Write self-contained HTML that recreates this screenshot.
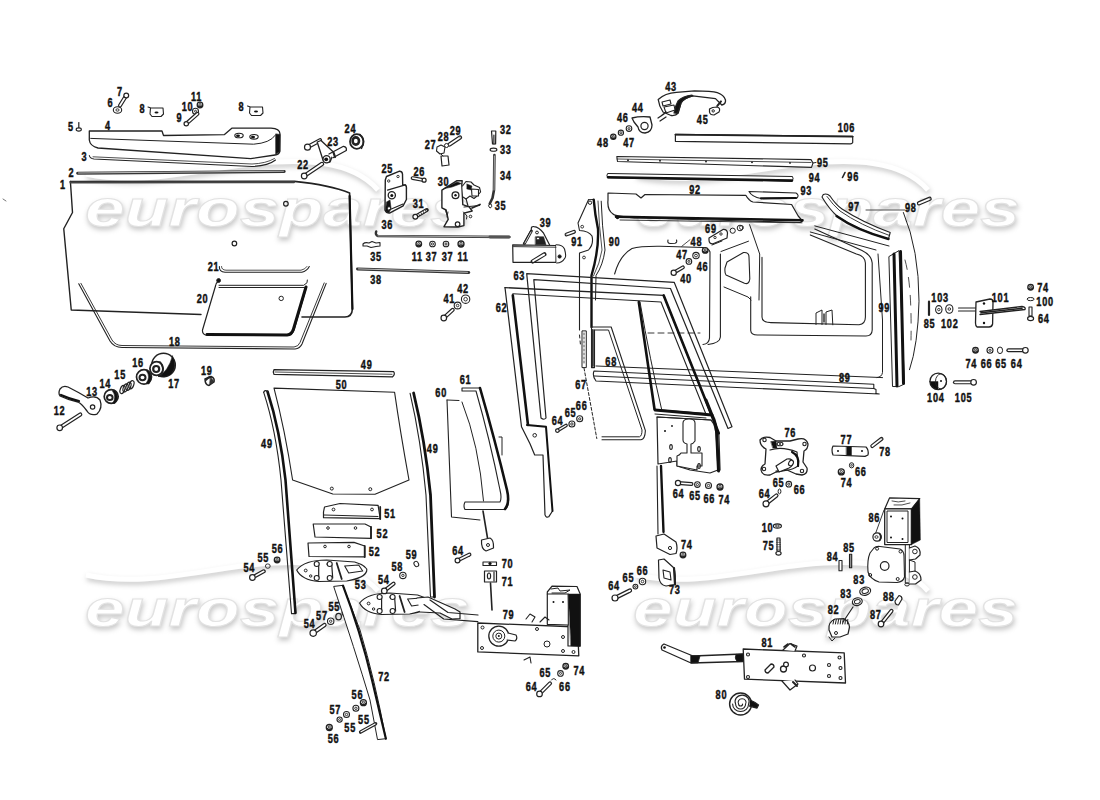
<!DOCTYPE html>
<html><head><meta charset="utf-8"><style>
html,body{margin:0;padding:0;background:#fff;width:1100px;height:800px;overflow:hidden}
svg{display:block}
</style></head><body>
<svg width="1100" height="800" viewBox="0 0 1100 800">
<defs><filter id="wm" x="-10%" y="-30%" width="120%" height="160%"><feGaussianBlur in="SourceAlpha" stdDeviation="2.5"/><feOffset dx="1" dy="3" result="b"/><feFlood flood-color="#c8c8c8"/><feComposite in2="b" operator="in"/><feMerge><feMergeNode/><feMergeNode in="SourceGraphic"/></feMerge></filter></defs>
<g id="wmk" font-family="Liberation Sans" font-weight="bold" font-style="italic" fill="#fff" stroke="#e2e2e2" stroke-width="1" filter="url(#wm)">
<text x="85" y="226" font-size="52" textLength="385" lengthAdjust="spacingAndGlyphs">eurospares</text><text x="635" y="226" font-size="52" textLength="385" lengthAdjust="spacingAndGlyphs">eurospares</text><text x="85" y="626" font-size="52" textLength="385" lengthAdjust="spacingAndGlyphs">eurospares</text><text x="633" y="626" font-size="52" textLength="385" lengthAdjust="spacingAndGlyphs">eurospares</text><path d="M86,174 C141,186 196,170 251,164 C301,159 351,159 378,190" stroke="#fff" stroke-width="5" fill="none"/><path d="M636,174 C691,186 746,170 801,164 C851,159 901,159 928,190" stroke="#fff" stroke-width="5" fill="none"/><path d="M86,575 C141,587 196,571 251,565 C301,560 351,560 378,591" stroke="#fff" stroke-width="5" fill="none"/><path d="M636,575 C691,587 746,571 801,565 C851,560 901,560 928,591" stroke="#fff" stroke-width="5" fill="none"/>
</g>
<g id="art">
<path d="M89.3,131 L162,131 L163.5,135.5 L224.5,134.6 L231.8,128.2 L271,128.2 Q279.8,128.5 280,134 L279.8,151.5 Q279,154.5 275,155 L250.7,158.7 L98,148 Q90,146 89.3,140 Z" stroke="#222" stroke-width="1.3" fill="#fff" stroke-linejoin="round" stroke-linecap="round" />
<path d="M90.7,138.4 L253.6,144.2 Q270,143 275,135.5" stroke="#222" stroke-width="1.0" fill="none" stroke-linejoin="round" stroke-linecap="round" />
<path d="M276,134 L280,134.5 L279.8,151.5 L276,154 Z" stroke="#222" stroke-width="0.8" fill="#111" stroke-linejoin="round" stroke-linecap="round" />
<ellipse cx="239" cy="135.5" rx="4.2" ry="2.3" transform="rotate(0 239 135.5)" stroke="#222" stroke-width="1.1" fill="#fff"/>
<ellipse cx="238" cy="135.8" rx="2" ry="1.3" transform="rotate(0 238 135.8)" stroke="#222" stroke-width="0" fill="#111"/>
<ellipse cx="254" cy="136.8" rx="4.2" ry="2.3" transform="rotate(0 254 136.8)" stroke="#222" stroke-width="1.1" fill="#fff"/>
<ellipse cx="253" cy="137.1" rx="2" ry="1.3" transform="rotate(0 253 137.1)" stroke="#222" stroke-width="0" fill="#111"/>
<path d="M89.3,155.5 Q90,158.5 94,159 L252,166.5 Q268,166 275.5,160" stroke="#222" stroke-width="1.1" fill="none" stroke-linejoin="round" stroke-linecap="round" />
<path d="M93,156.8 L252,164 Q266,163.5 274.5,158.5" stroke="#222" stroke-width="0.8" fill="none" stroke-linejoin="round" stroke-linecap="round" />
<path d="M77.6,173.3 L284.2,171.4" stroke="#333" stroke-width="3.0" fill="none" stroke-linejoin="round" stroke-linecap="round" />
<path d="M78.5,173.0 L283.5,171.2" stroke="#bbb" stroke-width="1.0" fill="none" stroke-linejoin="round" stroke-linecap="round" />
<path d="M70.4,181.5 L294.4,181.4 Q330,185 349.6,193 L352.4,309 Q352,317 345,317 L302,317" stroke="#222" stroke-width="1.6" fill="none" stroke-linejoin="round" stroke-linecap="round" />
<path d="M349.6,196 L352.4,309" stroke="#111" stroke-width="2.2" fill="none" stroke-linejoin="round" stroke-linecap="round" />
<path d="M70.4,181.5 L72.5,212.5 L63.75,228.75 L71.25,310 L201,314.5" stroke="#222" stroke-width="1.4" fill="none" stroke-linejoin="round" stroke-linecap="round" />
<path d="M70.4,182.5 L294.0,182.3" stroke="#444" stroke-width="2.0" fill="none" stroke-linejoin="round" stroke-linecap="round" />
<circle cx="285.9" cy="203.75" r="2.3" stroke="#222" stroke-width="1.2" fill="none"/>
<circle cx="234.4" cy="243.5" r="2.3" stroke="#222" stroke-width="1.2" fill="none"/>
<path d="M218.3,281 Q216,283 215.5,286 L202.5,330 Q202,335 208,335.5 L287,335.5 Q292,335 294,330 L306.5,287" stroke="#222" stroke-width="1.2" fill="#fff" stroke-linejoin="round" stroke-linecap="round" />
<path d="M207,334.5 L287,335 Q292,334.5 293.5,329 L306,287" stroke="#111" stroke-width="3.0" fill="none" stroke-linejoin="round" stroke-linecap="round" />
<path d="M219,285.3 L303.7,285.3 Q308.5,283 307.5,280" stroke="#222" stroke-width="1.0" fill="none" stroke-linejoin="round" stroke-linecap="round" />
<path d="M219,287.5 L304.7,287.5" stroke="#222" stroke-width="1.0" fill="none" stroke-linejoin="round" stroke-linecap="round" />
<circle cx="218.6" cy="280.5" r="1.9" stroke="#222" stroke-width="1.0" fill="#111"/>
<circle cx="281.2" cy="298.4" r="2.2" stroke="#222" stroke-width="1.0" fill="none"/>
<path d="M219.4,266.5 Q219,272 225,272.2 L301.8,272.2 Q307,271 309.3,266.5" stroke="#222" stroke-width="1.1" fill="none" stroke-linejoin="round" stroke-linecap="round" />
<path d="M221.5,266.5 Q221.5,270 226,270.2 L301,270.2 Q305,269.5 307,266.5" stroke="#222" stroke-width="0.8" fill="none" stroke-linejoin="round" stroke-linecap="round" />
<path d="M78.75,283.75 L110,341 Q114,347.5 122,347.5 L295,349 Q300,348.5 302,344 L326.2,283.4" stroke="#222" stroke-width="1.1" fill="none" stroke-linejoin="round" stroke-linecap="round" />
<path d="M80.9,283.3 L112,340 Q115.5,345.5 122,345.5 L294,347 Q298.5,346.5 300,342.5 L324.2,282.9" stroke="#222" stroke-width="0.9" fill="none" stroke-linejoin="round" stroke-linecap="round" />
<path d="M78.8,122.5 L78.8,129.0" stroke="#222" stroke-width="1.2" fill="none" stroke-linejoin="round" stroke-linecap="round" />
<ellipse cx="78.75" cy="129.5" rx="2.6" ry="1.6" transform="rotate(0 78.75 129.5)" stroke="#222" stroke-width="1.1" fill="#fff"/>
<ellipse cx="117.5" cy="110" rx="4.2" ry="3.2" transform="rotate(0 117.5 110)" stroke="#222" stroke-width="1.1" fill="#fff"/>
<ellipse cx="117.5" cy="110" rx="1.6" ry="1.2" transform="rotate(0 117.5 110)" stroke="#222" stroke-width="0.9" fill="none"/>
<path d="M126.2,95.5 L120.0,105.5" stroke="#222" stroke-width="4.1" fill="none" stroke-linejoin="round" stroke-linecap="round" />
<path d="M126.2,95.5 L120.0,105.5" stroke="#fff" stroke-width="1.7" fill="none" stroke-linejoin="round" stroke-linecap="round" />
<circle cx="126.25" cy="95.5" r="2.4" stroke="#222" stroke-width="1.2" fill="#fff"/>
<path d="M148,107 L151,108 L163,108 L163.5,114 L161,116.5 L152,116.5 L150,114 L150.5,108" stroke="#222" stroke-width="1.1" fill="#fff" stroke-linejoin="round" stroke-linecap="round" />
<ellipse cx="156.5" cy="112.5" rx="2" ry="1" transform="rotate(0 156.5 112.5)" stroke="#222" stroke-width="0" fill="#111"/>
<path d="M247.5,106 L250.5,107 L262.5,107 L263.0,113 L260.5,115.5 L251.5,115.5 L249.5,113 L250.0,107" stroke="#222" stroke-width="1.1" fill="#fff" stroke-linejoin="round" stroke-linecap="round" />
<ellipse cx="256.0" cy="111.5" rx="2" ry="1" transform="rotate(0 256.0 111.5)" stroke="#222" stroke-width="0" fill="#111"/>
<circle cx="200" cy="105" r="2.8" stroke="#222" stroke-width="1.3" fill="#fff"/>
<path d="M198.32,106.12 A2.2399999999999998,2.2399999999999998 0 0 0 201.96,105.84" stroke="#222" stroke-width="1.6" fill="none" stroke-linejoin="round" stroke-linecap="round" />
<circle cx="200" cy="104.5" r="0.9799999999999999" stroke="#222" stroke-width="0.9" fill="none"/>
<circle cx="195.5" cy="111.25" r="3" stroke="#222" stroke-width="1.1" fill="#fff"/>
<circle cx="195.5" cy="111.25" r="1" stroke="#222" stroke-width="0.9" fill="none"/>
<path d="M186.2,123.8 L197.5,113.8" stroke="#222" stroke-width="4.0" fill="none" stroke-linejoin="round" stroke-linecap="round" />
<path d="M186.2,123.8 L197.5,113.8" stroke="#fff" stroke-width="1.5999999999999999" fill="none" stroke-linejoin="round" stroke-linecap="round" />
<circle cx="186.25" cy="123.75" r="2.2" stroke="#222" stroke-width="1.2" fill="#fff"/>
<ellipse cx="356.8" cy="141.5" rx="6.8" ry="7.3" transform="rotate(0 356.8 141.5)" stroke="#222" stroke-width="1.8" fill="#fff"/>
<ellipse cx="355.8" cy="141" rx="3.2" ry="3.6" transform="rotate(0 355.8 141)" stroke="#222" stroke-width="2.6" fill="none"/>
<path d="M360,134.5 Q366,141 361.5,148.5" stroke="#222" stroke-width="1.4" fill="none" stroke-linejoin="round" stroke-linecap="round" />
<path d="M304.2,176.0 L322.1,163.9" stroke="#222" stroke-width="4.3" fill="none" stroke-linejoin="round" stroke-linecap="round" />
<path d="M304.2,176.0 L322.1,163.9" stroke="#fff" stroke-width="1.9000000000000001" fill="none" stroke-linejoin="round" stroke-linecap="round" />
<circle cx="304.2" cy="176" r="2.8" stroke="#222" stroke-width="1.2" fill="#fff"/>
<path d="M307.5,147.2 L320.0,140.3" stroke="#222" stroke-width="4.3" fill="none" stroke-linejoin="round" stroke-linecap="round" />
<path d="M307.5,147.2 L320.0,140.3" stroke="#fff" stroke-width="1.9000000000000001" fill="none" stroke-linejoin="round" stroke-linecap="round" />
<circle cx="307.5" cy="147.2" r="3.0" stroke="#222" stroke-width="1.2" fill="#fff"/>
<path d="M317.2,142 L321,140.5 L333.9,152.5 L330,162 Q326,163.5 323,160 Z" stroke="#222" stroke-width="1.3" fill="#fff" stroke-linejoin="round" stroke-linecap="round" />
<circle cx="326.6" cy="159.3" r="3.6" stroke="#222" stroke-width="1.3" fill="#fff"/>
<circle cx="326.2" cy="159.3" r="1.9" stroke="#222" stroke-width="0" fill="#111"/>
<path d="M329,154 L343.5,146.3 Q347,147 346.3,150.5 L333,157.8" stroke="#222" stroke-width="1.3" fill="#fff" stroke-linejoin="round" stroke-linecap="round" />
<path d="M333.5,152.5 L335.0,157.0" stroke="#222" stroke-width="2.2" fill="none" stroke-linejoin="round" stroke-linecap="round" />
<path d="M386.5,176.5 L399,171.3 Q402,171 402.5,174 L402.7,184.9 L405.3,184.9 Q406.8,186 406.4,190 L406.4,199.5 L403.2,205.8 L389.5,213.1 Q386,213 385,210 L385.3,180 Z" stroke="#222" stroke-width="1.4" fill="#fff" stroke-linejoin="round" stroke-linecap="round" />
<path d="M387.5,190.1 L405.3,184.9" stroke="#222" stroke-width="1.2" fill="none" stroke-linejoin="round" stroke-linecap="round" />
<path d="M386.5,202 L390,200 L391,208 L389,213 L385.5,211 Z" stroke="#222" stroke-width="0.6" fill="#111" stroke-linejoin="round" stroke-linecap="round" />
<circle cx="391.8" cy="195.3" r="3.6" stroke="#222" stroke-width="1.3" fill="#fff"/>
<circle cx="391.8" cy="195.5" r="1.5" stroke="#222" stroke-width="0" fill="#111"/>
<circle cx="389" cy="208.5" r="1.8" stroke="#222" stroke-width="1.1" fill="#fff"/>
<path d="M389,210 L403,204" stroke="#222" stroke-width="1.2" fill="none" stroke-linejoin="round" stroke-linecap="round" />
<circle cx="388.7" cy="181" r="1.2" stroke="#222" stroke-width="0.9" fill="none"/>
<circle cx="398" cy="176.5" r="1.2" stroke="#222" stroke-width="0.9" fill="none"/>
<path d="M424.1,180.2 L412.6,178.1" stroke="#222" stroke-width="3.9000000000000004" fill="none" stroke-linejoin="round" stroke-linecap="round" />
<path d="M424.1,180.2 L412.6,178.1" stroke="#fff" stroke-width="1.5000000000000002" fill="none" stroke-linejoin="round" stroke-linecap="round" />
<circle cx="424.1" cy="180.2" r="2.0" stroke="#222" stroke-width="1.2" fill="#fff"/>
<path d="M436.5,151 L437,147 L441,145 L445,147 L444,153 L440,154 Z" stroke="#222" stroke-width="1.1" fill="#fff" stroke-linejoin="round" stroke-linecap="round" />
<path d="M441,156 L448,156 L449,165 L442,166 Z" stroke="#222" stroke-width="1.2" fill="#fff" stroke-linejoin="round" stroke-linecap="round" />
<path d="M441.0,154.0 L443.0,156.0" stroke="#222" stroke-width="1.0" fill="none" stroke-linejoin="round" stroke-linecap="round" />
<path d="M460.0,137.5 L449.5,144.5" stroke="#222" stroke-width="4.3" fill="none" stroke-linejoin="round" stroke-linecap="round" />
<path d="M460.0,137.5 L449.5,144.5" stroke="#fff" stroke-width="1.9000000000000001" fill="none" stroke-linejoin="round" stroke-linecap="round" />
<circle cx="460" cy="137.5" r="0.1" stroke="#222" stroke-width="1.2" fill="#fff"/>
<circle cx="446.5" cy="145.5" r="2" stroke="#222" stroke-width="1.0" fill="#fff"/>
<path d="M441.9,190.1 L457,180.7 L462.2,180.7 L461.8,184.6 L462.8,204.7 L469.1,206.8 L472.2,211 L463.9,213.1 L463.9,225.6 L458,227 L444,226.7 L448.2,219.4 L446.1,210 L441.9,207.9 Z" stroke="#222" stroke-width="1.4" fill="#fff" stroke-linejoin="round" stroke-linecap="round" />
<path d="M444,188.5 L457,182 L461.5,183.5 L452,187 Z" stroke="#222" stroke-width="0.6" fill="#111" stroke-linejoin="round" stroke-linecap="round" />
<circle cx="455.5" cy="195.3" r="3.4" stroke="#222" stroke-width="1.3" fill="#fff"/>
<circle cx="455.5" cy="195.3" r="1.2" stroke="#222" stroke-width="0" fill="#111"/>
<circle cx="457.6" cy="224.2" r="2.3" stroke="#222" stroke-width="1.2" fill="#fff"/>
<path d="M462.5,186 L466,181.5 L471,182 L474,185 L479.5,187.5 L480.6,192 L477,196 L474,198.5 L470,196 L466,199 L463,197" stroke="#222" stroke-width="1.1" fill="#fff" stroke-linejoin="round" stroke-linecap="round" />
<path d="M467,184 L472,186 L471,190 L467,189 Z" stroke="#222" stroke-width="0.5" fill="#111" stroke-linejoin="round" stroke-linecap="round" />
<path d="M471.5,189 L478.5,189.5 L478.5,196 L472,196 Z" stroke="#222" stroke-width="1.1" fill="#fff" stroke-linejoin="round" stroke-linecap="round" />
<path d="M466,198.5 L468,206 M464,207 L479.5,205.5" stroke="#222" stroke-width="1.1" fill="none" stroke-linejoin="round" stroke-linecap="round" />
<path d="M463.5,212 L467,216 L466.5,219" stroke="#222" stroke-width="1.0" fill="none" stroke-linejoin="round" stroke-linecap="round" />
<circle cx="470.5" cy="216.5" r="1.3" stroke="#222" stroke-width="1.0" fill="none"/>
<path d="M480.0,204.5 L472.0,208.0" stroke="#222" stroke-width="1.8" fill="none" stroke-linejoin="round" stroke-linecap="round" />
<path d="M445.5,210.5 L447,215 M448,212 L447,217" stroke="#222" stroke-width="0.9" fill="none" stroke-linejoin="round" stroke-linecap="round" />
<path d="M415.3,216.8 L426.8,210.0" stroke="#222" stroke-width="4.0" fill="none" stroke-linejoin="round" stroke-linecap="round" />
<path d="M416.0,216.3 L426.0,210.5" stroke="#fff" stroke-width="1.6" fill="none" stroke-linejoin="round" stroke-linecap="round" />
<path d="M418.5,213.5 L419.5,215.5" stroke="#222" stroke-width="0.8" fill="none" stroke-linejoin="round" stroke-linecap="round" />
<path d="M420.7,212.2 L421.7,214.2" stroke="#222" stroke-width="0.8" fill="none" stroke-linejoin="round" stroke-linecap="round" />
<path d="M422.9,210.9 L423.9,212.9" stroke="#222" stroke-width="0.8" fill="none" stroke-linejoin="round" stroke-linecap="round" />
<path d="M425.1,209.6 L426.1,211.6" stroke="#222" stroke-width="0.8" fill="none" stroke-linejoin="round" stroke-linecap="round" />
<circle cx="415.3" cy="216.8" r="2.4" stroke="#222" stroke-width="1.2" fill="#fff"/>
<path d="M376.2,231.5 Q375,235 378,236 L509.4,237" stroke="#333" stroke-width="2.4" fill="none" stroke-linejoin="round" stroke-linecap="round" />
<path d="M378.0,235.9 L508.0,236.9" stroke="#ccc" stroke-width="0.8" fill="none" stroke-linejoin="round" stroke-linecap="round" />
<path d="M490.0,236.9 L509.0,237.0" stroke="#555" stroke-width="3.0" fill="none" stroke-linejoin="round" stroke-linecap="round" />
<path d="M363,244 Q365,242 369,243 L372,241.5 L376,243 L380,242.5 L380,246 L376,246.5 L371,247.5 L367,246 L363,246 Z" stroke="#222" stroke-width="1.1" fill="#fff" stroke-linejoin="round" stroke-linecap="round" />
<circle cx="418.75" cy="244" r="2.8" stroke="#222" stroke-width="1.3" fill="#fff"/>
<path d="M417.07,245.12 A2.2399999999999998,2.2399999999999998 0 0 0 420.71,244.84" stroke="#222" stroke-width="1.6" fill="none" stroke-linejoin="round" stroke-linecap="round" />
<circle cx="418.75" cy="243.5" r="0.9799999999999999" stroke="#222" stroke-width="0.9" fill="none"/>
<circle cx="432.5" cy="244" r="2.8" stroke="#222" stroke-width="1.1" fill="#fff"/>
<circle cx="432.5" cy="244" r="1.1" stroke="#222" stroke-width="0.9" fill="none"/>
<circle cx="446" cy="244" r="2.8" stroke="#222" stroke-width="1.1" fill="#fff"/>
<circle cx="446" cy="244" r="1.1" stroke="#222" stroke-width="0.9" fill="none"/>
<circle cx="461" cy="244" r="3" stroke="#222" stroke-width="1.3" fill="#fff"/>
<path d="M459.2,245.2 A2.4000000000000004,2.4000000000000004 0 0 0 463.1,244.9" stroke="#222" stroke-width="1.6" fill="none" stroke-linejoin="round" stroke-linecap="round" />
<circle cx="461" cy="243.5" r="1.0499999999999998" stroke="#222" stroke-width="0.9" fill="none"/>
<path d="M357.5,268.9 L468.8,272.5" stroke="#333" stroke-width="3.0" fill="none" stroke-linejoin="round" stroke-linecap="round" />
<path d="M358.5,268.9 L467.5,272.3" stroke="#bbb" stroke-width="1.0" fill="none" stroke-linejoin="round" stroke-linecap="round" />
<path d="M491.5,131 L495.8,131 L495.6,144 L492.5,144 Z" stroke="#222" stroke-width="1.2" fill="#fff" stroke-linejoin="round" stroke-linecap="round" />
<path d="M493.9,135.0 L493.9,144.0" stroke="#222" stroke-width="1.2" fill="none" stroke-linejoin="round" stroke-linecap="round" />
<ellipse cx="493.5" cy="149.7" rx="3.4" ry="1.6" transform="rotate(0 493.5 149.7)" stroke="#222" stroke-width="1.1" fill="#fff"/>
<path d="M494.4,155 L494,190 L492.5,198 L489.7,203.7" stroke="#333" stroke-width="2.6" fill="none" stroke-linejoin="round" stroke-linecap="round" />
<path d="M494.4,156.0 L494.0,190.0" stroke="#ccc" stroke-width="0.8" fill="none" stroke-linejoin="round" stroke-linecap="round" />
<path d="M489.7,203.7 Q487,206 490,208 Q493,207 491,204" stroke="#222" stroke-width="1.0" fill="none" stroke-linejoin="round" stroke-linecap="round" />
<circle cx="163.5" cy="365" r="11.8" stroke="#222" stroke-width="1.5" fill="#fff"/>
<path d="M172.5,356 Q178,366 171,374.5 Q165,378 158,376.5 Q168,372 172.5,356 Z" stroke="#222" stroke-width="0.6" fill="#111" stroke-linejoin="round" stroke-linecap="round" />
<ellipse cx="156.5" cy="368.5" rx="6.6" ry="6.8" transform="rotate(0 156.5 368.5)" stroke="#222" stroke-width="1.8" fill="#fff"/>
<ellipse cx="156.2" cy="369" rx="3" ry="3" transform="rotate(0 156.2 369)" stroke="#222" stroke-width="2.2" fill="none"/>
<circle cx="156.2" cy="369" r="0.8" stroke="#222" stroke-width="0" fill="#fff"/>
<path d="M160,362 Q165,368 161.5,375" stroke="#222" stroke-width="1.6" fill="none" stroke-linejoin="round" stroke-linecap="round" />
<ellipse cx="144" cy="376.9" rx="7.5" ry="7.2" transform="rotate(0 144 376.9)" stroke="#222" stroke-width="1.7" fill="#fff"/>
<ellipse cx="142.5" cy="377.5" rx="3" ry="2.8" transform="rotate(0 142.5 377.5)" stroke="#222" stroke-width="2.0" fill="none"/>
<path d="M148,370.5 Q154,377 149,384 L146,383.5 Q151,377 146.5,371 Z" stroke="#222" stroke-width="0.6" fill="#111" stroke-linejoin="round" stroke-linecap="round" />
<ellipse cx="122.5" cy="389.5" rx="2.2" ry="4.2" transform="rotate(20 122.5 389.5)" stroke="#222" stroke-width="1.2" fill="none"/>
<ellipse cx="125.5" cy="387.9" rx="2.2" ry="4.2" transform="rotate(20 125.5 387.9)" stroke="#222" stroke-width="1.2" fill="none"/>
<ellipse cx="128.5" cy="386.3" rx="2.2" ry="4.2" transform="rotate(20 128.5 386.3)" stroke="#222" stroke-width="1.2" fill="none"/>
<ellipse cx="131.5" cy="384.7" rx="2.2" ry="4.2" transform="rotate(20 131.5 384.7)" stroke="#222" stroke-width="1.2" fill="none"/>
<ellipse cx="111.2" cy="396.5" rx="7" ry="6.8" transform="rotate(0 111.2 396.5)" stroke="#222" stroke-width="1.7" fill="#fff"/>
<ellipse cx="109.8" cy="397.5" rx="2.8" ry="2.6" transform="rotate(0 109.8 397.5)" stroke="#222" stroke-width="2.0" fill="none"/>
<path d="M115,390.5 Q120,397 115,403.5 L112.5,403.5 Q117,397 112.5,391 Z" stroke="#222" stroke-width="0.6" fill="#111" stroke-linejoin="round" stroke-linecap="round" />
<path d="M60,389 Q63,385 68,387 Q78,392 88,398 Q96,395 100,400 Q103,408 97,414 Q90,416 87,411 Q82,404 78,402 Q68,400 60,396 Q58,393 60,389 Z" stroke="#222" stroke-width="1.3" fill="#fff" stroke-linejoin="round" stroke-linecap="round" />
<path d="M61,395 Q70,399 79,401" stroke="#111" stroke-width="2.2" fill="none" stroke-linejoin="round" stroke-linecap="round" />
<circle cx="92.6" cy="407" r="2.2" stroke="#222" stroke-width="1.2" fill="none"/>
<path d="M59.7,427.8 L80.3,414.5" stroke="#222" stroke-width="4.1" fill="none" stroke-linejoin="round" stroke-linecap="round" />
<path d="M59.7,427.8 L80.3,414.5" stroke="#fff" stroke-width="1.7" fill="none" stroke-linejoin="round" stroke-linecap="round" />
<circle cx="59.7" cy="427.8" r="2.8" stroke="#222" stroke-width="1.2" fill="#fff"/>
<path d="M205,379 L211,376.5 Q215,378 214,382 L209,385.5 Q205,385 205,379 Z" stroke="#222" stroke-width="1.5" fill="#fff" stroke-linejoin="round" stroke-linecap="round" />
<path d="M206,380 Q208,377 211,377" stroke="#222" stroke-width="1.8" fill="none" stroke-linejoin="round" stroke-linecap="round" />
<path d="M210.5,377 L214,381.5 L209.5,385 Z" stroke="#222" stroke-width="0.5" fill="#333" stroke-linejoin="round" stroke-linecap="round" />
<path d="M658.2,99.5 Q665,93 676.4,92.3 L694.5,90.9 Q712,91 717.3,92.7 Q724,95 725.5,100 Q726,104 721.8,105 L715.5,98.6 L692.7,95.9 Q684,98 681,103 Q679,110 678.2,113.2 Q676,116 671,115.5 L663,112 Q659,106 658.2,99.5 Z" stroke="#222" stroke-width="1.3" fill="#fff" stroke-linejoin="round" stroke-linecap="round" />
<path d="M692.7,95.9 Q684,98 681,103 Q679,110 677.5,113.5 L674,113 Q675,106 678,101 Q683,96 692,95 Z" stroke="#222" stroke-width="1.2" fill="#111" stroke-linejoin="round" stroke-linecap="round" />
<path d="M662,102 L670,100 L671,104 L663,106 Z" stroke="#222" stroke-width="1.1" fill="#fff" stroke-linejoin="round" stroke-linecap="round" />
<path d="M664,107 L674,105 L675,110 L666,113 Z" stroke="#222" stroke-width="1.1" fill="#fff" stroke-linejoin="round" stroke-linecap="round" />
<path d="M661,116 L666,112 M658,118 L664,114 M660,121 L666,117" stroke="#222" stroke-width="1.3" fill="none" stroke-linejoin="round" stroke-linecap="round" />
<path d="M709.5,109 Q712,107 717,107 Q721,108 719,112 L714,115 Q710,115 709.5,112 Z" stroke="#222" stroke-width="1.2" fill="#fff" stroke-linejoin="round" stroke-linecap="round" />
<circle cx="713.2" cy="110.9" r="1.2" stroke="#222" stroke-width="1.0" fill="none"/>
<path d="M717.3,105.9 L721.0,101.4" stroke="#222" stroke-width="2.0" fill="none" stroke-linejoin="round" stroke-linecap="round" />
<path d="M632,118 Q640,116 650,117 L652,125 Q652,132 645,133 Q639,133 638,127 L634,122 Z" stroke="#222" stroke-width="1.3" fill="#fff" stroke-linejoin="round" stroke-linecap="round" />
<circle cx="644.5" cy="126" r="3.6" stroke="#222" stroke-width="1.2" fill="none"/>
<circle cx="613.3" cy="136.8" r="2.6" stroke="#222" stroke-width="1.3" fill="#fff"/>
<path d="M611.74,137.84 A2.08,2.08 0 0 0 615.12,137.58" stroke="#222" stroke-width="1.6" fill="none" stroke-linejoin="round" stroke-linecap="round" />
<circle cx="613.3" cy="136.3" r="0.9099999999999999" stroke="#222" stroke-width="0.9" fill="none"/>
<circle cx="620.9" cy="132.7" r="2.6" stroke="#222" stroke-width="1.1" fill="#fff"/>
<circle cx="620.9" cy="132.7" r="1" stroke="#222" stroke-width="0.9" fill="none"/>
<circle cx="629" cy="128.6" r="2.8" stroke="#222" stroke-width="1.1" fill="#fff"/>
<circle cx="629" cy="128.6" r="1" stroke="#222" stroke-width="0.9" fill="none"/>
<path d="M675.4,134.3 L852.7,136.3 L852.7,142.5 Q852,144 850,143.8 L675.4,141.3 Z" stroke="#222" stroke-width="1.2" fill="#fff" stroke-linejoin="round" stroke-linecap="round" />
<path d="M675.4,134.6 L852.7,136.6" stroke="#222" stroke-width="1.8" fill="none" stroke-linejoin="round" stroke-linecap="round" />
<path d="M616.8,156.5 L811,159.6 L813,163 L811.5,167.4 L617.5,161.5 Z" stroke="#222" stroke-width="1.1" fill="#fff" stroke-linejoin="round" stroke-linecap="round" />
<path d="M617.0,159.0 L811.0,162.5" stroke="#222" stroke-width="0.8" fill="none" stroke-linejoin="round" stroke-linecap="round" />
<circle cx="628" cy="160.187" r="0.9" stroke="#222" stroke-width="0" fill="#111"/>
<circle cx="660" cy="160.731" r="0.9" stroke="#222" stroke-width="0" fill="#111"/>
<circle cx="706" cy="161.513" r="0.9" stroke="#222" stroke-width="0" fill="#111"/>
<circle cx="752" cy="162.295" r="0.9" stroke="#222" stroke-width="0" fill="#111"/>
<circle cx="790" cy="162.941" r="0.9" stroke="#222" stroke-width="0" fill="#111"/>
<path d="M813,163 L816,162.5" stroke="#222" stroke-width="1.0" fill="none" stroke-linejoin="round" stroke-linecap="round" />
<path d="M607.3,174 Q606,176 608,177.8 L792,181 Q794,179 792.5,176.5 L608,173.5 Z" stroke="#222" stroke-width="1.0" fill="#fff" stroke-linejoin="round" stroke-linecap="round" />
<path d="M608.0,177.3 L792.0,180.6" stroke="#111" stroke-width="2.6" fill="none" stroke-linejoin="round" stroke-linecap="round" />
<path d="M842.5,177.5 L845.0,172.5" stroke="#222" stroke-width="1.6" fill="none" stroke-linejoin="round" stroke-linecap="round" />
<path d="M608,193 L636,194 L641,198 L645,194.5 L745.8,195.3 Q749,201 753,202 L791.6,204.5 L798.2,216 L802.5,221 L800,222.5 L640,218 Q616,217 613,214 Q607,210 608,200 Z" stroke="#222" stroke-width="1.2" fill="#fff" stroke-linejoin="round" stroke-linecap="round" />
<path d="M616.0,216.8 L802.5,220.2" stroke="#111" stroke-width="2.6" fill="none" stroke-linejoin="round" stroke-linecap="round" />
<path d="M620.0,220.0 L802.0,222.8" stroke="#222" stroke-width="0.9" fill="none" stroke-linejoin="round" stroke-linecap="round" />
<circle cx="617.5" cy="217.5" r="1.7" stroke="#222" stroke-width="0" fill="#111"/>
<path d="M749,191.5 L796,193 Q799.5,195 797,198 L761,198.5 Q752,197 749,191.5 Z" stroke="#222" stroke-width="1.1" fill="#fff" stroke-linejoin="round" stroke-linecap="round" />
<path d="M761.0,198.3 L796.0,198.0" stroke="#111" stroke-width="2.2" fill="none" stroke-linejoin="round" stroke-linecap="round" />
<path d="M588.5,199.7 L578,223 L579.5,230.5 Q589,231 592,236 Q594,244 588.5,250 L579.5,253 L579.5,330" stroke="#222" stroke-width="1.1" fill="none" stroke-linejoin="round" stroke-linecap="round" />
<path d="M579.5,335 L580.5,345" stroke="#222" stroke-width="1.0" fill="none" stroke-linejoin="round" stroke-linecap="round" stroke-dasharray="3,3"/>
<circle cx="590" cy="202.7" r="1.7" stroke="#222" stroke-width="1.0" fill="none"/>
<circle cx="582.2" cy="226.7" r="1.4" stroke="#222" stroke-width="0.9" fill="none"/>
<circle cx="584" cy="257.5" r="1.4" stroke="#222" stroke-width="0.9" fill="none"/>
<path d="M588.5,199.7 L593.7,199.5" stroke="#222" stroke-width="1.0" fill="none" stroke-linejoin="round" stroke-linecap="round" />
<path d="M593.7,199.7 Q595,215 598,229 Q599,250 591.5,275.5 L591.5,327" stroke="#111" stroke-width="2.4" fill="none" stroke-linejoin="round" stroke-linecap="round" />
<path d="M601.2,201.2 Q602,225 605,250 Q603,265 596,275.5 L595.5,300" stroke="#222" stroke-width="1.0" fill="none" stroke-linejoin="round" stroke-linecap="round" />
<path d="M598,201 Q599,225 602,250 Q600,263 593.5,276" stroke="#222" stroke-width="0.8" fill="none" stroke-linejoin="round" stroke-linecap="round" />
<path d="M512.7,244.8 L556,245.5 L556,262.3 L513,262.3 Z" stroke="#222" stroke-width="1.2" fill="#fff" stroke-linejoin="round" stroke-linecap="round" />
<path d="M556,244.8 Q563,245 564.5,249 Q566.5,256 565,258 Q562,263 556.7,263" stroke="#222" stroke-width="1.1" fill="#fff" stroke-linejoin="round" stroke-linecap="round" />
<circle cx="559.6" cy="256.5" r="1.6" stroke="#222" stroke-width="1.0" fill="#111"/>
<path d="M523.3,244 L531.3,229.5 Q531,226 534,226.6 Q539,227 543.6,233.2 L549.5,244.8" stroke="#222" stroke-width="1.2" fill="none" stroke-linejoin="round" stroke-linecap="round" />
<path d="M524.5,243.5 L531.5,231.0" stroke="#222" stroke-width="2.6" fill="none" stroke-linejoin="round" stroke-linecap="round" />
<path d="M525.0,243.0 L531.0,232.0" stroke="#fff" stroke-width="0.8" fill="none" stroke-linejoin="round" stroke-linecap="round" />
<path d="M535.6,236.8 L543.6,236.8 L546,244.8 L535.6,244.8 Z" stroke="#222" stroke-width="0.6" fill="#222" stroke-linejoin="round" stroke-linecap="round" />
<circle cx="538" cy="238.5" r="1.5" stroke="#222" stroke-width="1.0" fill="#fff"/>
<circle cx="537" cy="232.5" r="1.4" stroke="#222" stroke-width="1.0" fill="none"/>
<path d="M532.7,261.5 L544.4,254.3" stroke="#222" stroke-width="4.2" fill="none" stroke-linejoin="round" stroke-linecap="round" />
<path d="M533.2,261.0 L544.0,254.6" stroke="#fff" stroke-width="2.0" fill="none" stroke-linejoin="round" stroke-linecap="round" />
<path d="M513.5,246.6 L556.0,247.2" stroke="#222" stroke-width="0.9" fill="none" stroke-linejoin="round" stroke-linecap="round" />
<path d="M566.5,234.5 L574.0,231.8" stroke="#222" stroke-width="3.9000000000000004" fill="none" stroke-linejoin="round" stroke-linecap="round" />
<path d="M566.5,234.5 L574.0,231.8" stroke="#fff" stroke-width="1.5000000000000002" fill="none" stroke-linejoin="round" stroke-linecap="round" />
<circle cx="566.5" cy="234.5" r="0.1" stroke="#222" stroke-width="1.2" fill="#fff"/>
<path d="M443.8,318.0 L452.7,309.8" stroke="#222" stroke-width="4.1" fill="none" stroke-linejoin="round" stroke-linecap="round" />
<path d="M443.8,318.0 L452.7,309.8" stroke="#fff" stroke-width="1.7" fill="none" stroke-linejoin="round" stroke-linecap="round" />
<circle cx="443.8" cy="318" r="2.8" stroke="#222" stroke-width="1.2" fill="#fff"/>
<circle cx="457.6" cy="305.5" r="3.4" stroke="#222" stroke-width="1.1" fill="#fff"/>
<circle cx="457.6" cy="305.5" r="1.3" stroke="#222" stroke-width="0.9" fill="none"/>
<circle cx="465.6" cy="299.2" r="4.2" stroke="#222" stroke-width="1.1" fill="#fff"/>
<circle cx="465.6" cy="299.2" r="1.8" stroke="#222" stroke-width="0.9" fill="none"/>
<path d="M614.6,274 Q620,255 632,248.5 Q640,246 660,246.2 L703,247.5 Q709,248 710,252 L709.5,338 Q709,344 703,344.5" stroke="#222" stroke-width="1.1" fill="none" stroke-linejoin="round" stroke-linecap="round" />
<path d="M648,333 L700,333" stroke="#222" stroke-width="0.9" fill="none" stroke-linejoin="round" stroke-linecap="round" stroke-dasharray="6,4"/>
<circle cx="675" cy="246.8" r="0" stroke="#222" stroke-width="0" fill="none"/>
<path d="M668,240 Q667,243.5 670.5,243.5 L675,243.2 Q677.5,242.5 676.5,240" stroke="#222" stroke-width="1.1" fill="none" stroke-linejoin="round" stroke-linecap="round" />
<path d="M720.4,254 L720.4,337 Q720,343 708,344.5" stroke="#222" stroke-width="1.1" fill="none" stroke-linejoin="round" stroke-linecap="round" />
<path d="M721,251.5 L748.5,241.2" stroke="#222" stroke-width="1.0" fill="none" stroke-linejoin="round" stroke-linecap="round" />
<path d="M749.6,224.7 L759.7,254 L759,300" stroke="#222" stroke-width="1.0" fill="none" stroke-linejoin="round" stroke-linecap="round" />
<path d="M727,262 L743.5,252.5 Q749,252 749,257 L749.8,279 Q749,285 744.5,283.2 L726,275 Q724.5,273 725,268 Z" stroke="#222" stroke-width="1.1" fill="none" stroke-linejoin="round" stroke-linecap="round" />
<path d="M724,287 L748,297 L751,300" stroke="#222" stroke-width="1.0" fill="none" stroke-linejoin="round" stroke-linecap="round" />
<path d="M762,257.4 L762,317 Q762,322.6 771,322.6 L859,324.8 Q865.4,324 865.4,317 L865.4,263 Q865,256 856.4,254 L810.3,234.9" stroke="#222" stroke-width="1.1" fill="none" stroke-linejoin="round" stroke-linecap="round" />
<path d="M750.7,296.7 L750.7,330.5 Q751,335 757.5,335 L866,336 Q872,336 872.2,330 L872.2,263 Q871.5,255 862,250.5 L814.8,229" stroke="#222" stroke-width="1.1" fill="none" stroke-linejoin="round" stroke-linecap="round" />
<path d="M814.8,225.9 L889,246 M810.3,232 L876,250" stroke="#222" stroke-width="1.0" fill="none" stroke-linejoin="round" stroke-linecap="round" />
<path d="M816,324.5 L816,313 L822,310 L822,324.5 M826,324.5 L826,312 L832,310 L832.8,324.8" stroke="#222" stroke-width="1.0" fill="none" stroke-linejoin="round" stroke-linecap="round" />
<path d="M824.0,314.0 L824.0,322.0" stroke="#222" stroke-width="1.4" fill="none" stroke-linejoin="round" stroke-linecap="round" />
<path d="M878,254 L882.5,320 L882.5,372.4 Q882,377 877,377.6" stroke="#222" stroke-width="1.0" fill="none" stroke-linejoin="round" stroke-linecap="round" />
<path d="M888.9,257 L892.5,386.5 Q899,388 904.5,384 L899,251 Z" stroke="#222" stroke-width="1.0" fill="#fff" stroke-linejoin="round" stroke-linecap="round" />
<path d="M894,254 L897,386" stroke="#111" stroke-width="3.0" fill="none" stroke-linejoin="round" stroke-linecap="round" />
<path d="M900.5,251.5 L903.5,383.5" stroke="#111" stroke-width="3.0" fill="none" stroke-linejoin="round" stroke-linecap="round" />
<path d="M903.4,212.5 Q919,250 919,301.2 Q918,345 909.5,369.7" stroke="#222" stroke-width="1.0" fill="none" stroke-linejoin="round" stroke-linecap="round" />
<path d="M905,260 Q912,285 911,340" stroke="#222" stroke-width="0.8" fill="none" stroke-linejoin="round" stroke-linecap="round" stroke-dasharray="10,8"/>
<path d="M823.3,194.5 Q827,193 830,196 Q836,205 842,209 Q862,222 890.2,232.5 L888.5,239 Q860,231 838,217 Q829,209 822,197 Z" stroke="#222" stroke-width="1.1" fill="#fff" stroke-linejoin="round" stroke-linecap="round" />
<path d="M836.5,216 Q856,230 888.5,239" stroke="#111" stroke-width="2.4" fill="none" stroke-linejoin="round" stroke-linecap="round" />
<path d="M827,196.5 Q833,205 840,211 Q860,225 889.5,235.5" stroke="#222" stroke-width="0.9" fill="none" stroke-linejoin="round" stroke-linecap="round" />
<path d="M866.0,210.0 L905.0,210.0" stroke="#222" stroke-width="0.8" fill="none" stroke-linejoin="round" stroke-linecap="round" />
<path d="M929.6,198.8 L919.0,203.3" stroke="#222" stroke-width="4.3" fill="none" stroke-linejoin="round" stroke-linecap="round" />
<path d="M929.6,198.8 L919.0,203.3" stroke="#fff" stroke-width="1.9000000000000001" fill="none" stroke-linejoin="round" stroke-linecap="round" />
<circle cx="929.6" cy="198.8" r="0.1" stroke="#222" stroke-width="1.2" fill="#fff"/>
<path d="M596,366 L882.5,377.6" stroke="#222" stroke-width="1.0" fill="none" stroke-linejoin="round" stroke-linecap="round" />
<path d="M594,371 L873.8,384.2 L873.8,388.5 L876,389.6 L876,393.5 L879.3,394 L596,381 Q592,376 594,371 Z" stroke="#222" stroke-width="1.1" fill="#fff" stroke-linejoin="round" stroke-linecap="round" />
<path d="M594.0,376.0 L873.8,388.5" stroke="#222" stroke-width="1.0" fill="none" stroke-linejoin="round" stroke-linecap="round" />
<ellipse cx="938.8" cy="309.6" rx="3.2" ry="4" transform="rotate(0 938.8 309.6)" stroke="#222" stroke-width="1.1" fill="#fff"/>
<circle cx="938.8" cy="309.6" r="1.2" stroke="#222" stroke-width="0.9" fill="none"/>
<ellipse cx="949.3" cy="309" rx="3.6" ry="4.3" transform="rotate(0 949.3 309)" stroke="#222" stroke-width="1.1" fill="#fff"/>
<circle cx="949.3" cy="309" r="1.3" stroke="#222" stroke-width="0.9" fill="none"/>
<path d="M929.0,301.7 L929.0,314.9" stroke="#222" stroke-width="2.2" fill="none" stroke-linejoin="round" stroke-linecap="round" />
<path d="M958.5,308 L976,308 M958.5,311 L976,311" stroke="#222" stroke-width="1.1" fill="none" stroke-linejoin="round" stroke-linecap="round" />
<path d="M976,302 L990,299 Q993,299 993,302 L992.6,324 Q992,327 989,327 L977,327 Q975.5,326 975.5,323 Z" stroke="#222" stroke-width="1.3" fill="#fff" stroke-linejoin="round" stroke-linecap="round" />
<circle cx="984" cy="303.5" r="1.2" stroke="#222" stroke-width="0" fill="#111"/>
<circle cx="984" cy="323" r="1.2" stroke="#222" stroke-width="0" fill="#111"/>
<path d="M980,311.5 L1022,306.5 Q1026,307 1025,309.5 L980,314.5" stroke="#222" stroke-width="1.3" fill="#fff" stroke-linejoin="round" stroke-linecap="round" />
<path d="M981.0,312.8 L1022.0,308.3" stroke="#222" stroke-width="1.6" fill="none" stroke-linejoin="round" stroke-linecap="round" />
<circle cx="1030.6" cy="287.3" r="2.8" stroke="#222" stroke-width="1.3" fill="#fff"/>
<path d="M1028.9199999999998,288.42 A2.2399999999999998,2.2399999999999998 0 0 0 1032.56,288.14" stroke="#222" stroke-width="1.6" fill="none" stroke-linejoin="round" stroke-linecap="round" />
<circle cx="1030.6" cy="286.8" r="0.9799999999999999" stroke="#222" stroke-width="0.9" fill="none"/>
<ellipse cx="1030.6" cy="299.1" rx="3.5" ry="1.6" transform="rotate(0 1030.6 299.1)" stroke="#222" stroke-width="1.0" fill="none"/>
<path d="M1029,307 L1032,307 L1032,316 L1029,316 Z" stroke="#222" stroke-width="1.1" fill="#fff" stroke-linejoin="round" stroke-linecap="round" />
<ellipse cx="1030.6" cy="318.5" rx="3" ry="2.2" transform="rotate(0 1030.6 318.5)" stroke="#222" stroke-width="1.2" fill="#fff"/>
<circle cx="975.5" cy="350.3" r="2.8" stroke="#222" stroke-width="1.3" fill="#fff"/>
<path d="M973.82,351.42 A2.2399999999999998,2.2399999999999998 0 0 0 977.46,351.14" stroke="#222" stroke-width="1.6" fill="none" stroke-linejoin="round" stroke-linecap="round" />
<circle cx="975.5" cy="349.8" r="0.9799999999999999" stroke="#222" stroke-width="0.9" fill="none"/>
<circle cx="990" cy="350.3" r="3" stroke="#222" stroke-width="1.1" fill="#fff"/>
<circle cx="990" cy="350.3" r="1.1" stroke="#222" stroke-width="0.9" fill="none"/>
<ellipse cx="1000" cy="350.3" rx="2.6" ry="3.3" transform="rotate(0 1000 350.3)" stroke="#222" stroke-width="1.0" fill="#fff"/>
<path d="M1025.4,350.3 L1008.3,350.3" stroke="#222" stroke-width="3.9000000000000004" fill="none" stroke-linejoin="round" stroke-linecap="round" />
<path d="M1025.4,350.3 L1008.3,350.3" stroke="#fff" stroke-width="1.5000000000000002" fill="none" stroke-linejoin="round" stroke-linecap="round" />
<circle cx="1025.4" cy="350.3" r="2.8" stroke="#222" stroke-width="1.2" fill="#fff"/>
<circle cx="938.2" cy="381.4" r="8.3" stroke="#222" stroke-width="1.3" fill="#fff"/>
<path d="M930,381.5 L938,381.5 L938,389.6 Q931,389 930,381.5 Z" stroke="#222" stroke-width="0.5" fill="#111" stroke-linejoin="round" stroke-linecap="round" />
<ellipse cx="941" cy="381.4" rx="5.5" ry="7.5" transform="rotate(0 941 381.4)" stroke="#222" stroke-width="0.9" fill="none"/>
<circle cx="941" cy="381" r="1" stroke="#222" stroke-width="0" fill="#111"/>
<path d="M973.6,382.3 L955.0,382.3" stroke="#222" stroke-width="4.1" fill="none" stroke-linejoin="round" stroke-linecap="round" />
<path d="M973.6,382.3 L955.0,382.3" stroke="#fff" stroke-width="1.7" fill="none" stroke-linejoin="round" stroke-linecap="round" />
<circle cx="973.6" cy="382.3" r="2.8" stroke="#222" stroke-width="1.2" fill="#fff"/>
<path d="M709,238 L723,229.4 Q727,229 727.5,233 L727,238 L713,243.8 Q709,244 709,240 Z" stroke="#222" stroke-width="1.2" fill="#fff" stroke-linejoin="round" stroke-linecap="round" />
<circle cx="715" cy="237.5" r="1.2" stroke="#222" stroke-width="0.9" fill="none"/>
<circle cx="721" cy="234" r="1.2" stroke="#222" stroke-width="0.9" fill="none"/>
<path d="M712.0,245.0 L722.0,241.0" stroke="#222" stroke-width="1.0" fill="none" stroke-linejoin="round" stroke-linecap="round" />
<circle cx="732.7" cy="230.7" r="2.6" stroke="#222" stroke-width="1.0" fill="none"/>
<circle cx="740" cy="228" r="2.8" stroke="#222" stroke-width="1.0" fill="none"/>
<circle cx="741.5" cy="227.5" r="2" stroke="#222" stroke-width="0.8" fill="none"/>
<circle cx="705.2" cy="250.4" r="2.8" stroke="#222" stroke-width="1.3" fill="#fff"/>
<path d="M703.5200000000001,251.52 A2.2399999999999998,2.2399999999999998 0 0 0 707.1600000000001,251.24" stroke="#222" stroke-width="1.6" fill="none" stroke-linejoin="round" stroke-linecap="round" />
<circle cx="705.2" cy="249.9" r="0.9799999999999999" stroke="#222" stroke-width="0.9" fill="none"/>
<circle cx="696" cy="255.6" r="3.2" stroke="#222" stroke-width="1.1" fill="#fff"/>
<circle cx="696" cy="255.6" r="1.4" stroke="#222" stroke-width="0.9" fill="none"/>
<circle cx="688.9" cy="261.4" r="2.8" stroke="#222" stroke-width="1.1" fill="#fff"/>
<circle cx="688.9" cy="261.4" r="1" stroke="#222" stroke-width="0.9" fill="none"/>
<path d="M673.7,272.7 L682.9,267.4" stroke="#222" stroke-width="3.9000000000000004" fill="none" stroke-linejoin="round" stroke-linecap="round" />
<path d="M673.7,272.7 L682.9,267.4" stroke="#fff" stroke-width="1.5000000000000002" fill="none" stroke-linejoin="round" stroke-linecap="round" />
<circle cx="673.7" cy="272.7" r="2.6" stroke="#222" stroke-width="1.2" fill="#fff"/>
<path d="M681.8,246.3 L690.0,239.7" stroke="#222" stroke-width="0.8" fill="none" stroke-linejoin="round" stroke-linecap="round" />
<path d="M526.7,273.6 L674.2,282.3 L732,426.7 L728,428.5 L670.5,288.5 L533.8,279.7 L546,418 Q544,420.5 541,418 Z" stroke="#222" stroke-width="1.2" fill="none" stroke-linejoin="round" stroke-linecap="round" />
<path d="M505,287.6 L663.7,295.4 L718.8,433.2 L720,470" stroke="#222" stroke-width="1.3" fill="none" stroke-linejoin="round" stroke-linecap="round" />
<path d="M663.7,295.4 L718.8,433.2" stroke="#111" stroke-width="2.6" fill="none" stroke-linejoin="round" stroke-linecap="round" />
<path d="M505,287.6 L521.5,426.8 L530,443.7 L534.7,455 L543,455 L545,514.9 Q546,518 548.7,516.8 L552.5,511" stroke="#222" stroke-width="1.2" fill="none" stroke-linejoin="round" stroke-linecap="round" />
<path d="M512.8,293.8 L661,302 L705.7,413.5" stroke="#222" stroke-width="1.1" fill="none" stroke-linejoin="round" stroke-linecap="round" />
<path d="M512.8,295.4 L528,425" stroke="#111" stroke-width="2.6" fill="none" stroke-linejoin="round" stroke-linecap="round" />
<path d="M527,425 L546,426.8 L552.5,511" stroke="#111" stroke-width="2.0" fill="none" stroke-linejoin="round" stroke-linecap="round" />
<path d="M638.8,302 L654.5,409" stroke="#111" stroke-width="2.6" fill="none" stroke-linejoin="round" stroke-linecap="round" />
<path d="M654.5,409.6 L705.7,413.5" stroke="#222" stroke-width="1.2" fill="none" stroke-linejoin="round" stroke-linecap="round" />
<circle cx="534.7" cy="435.3" r="1.8" stroke="#222" stroke-width="1.0" fill="none"/>
<path d="M640,302 Q650,360 662,411 M655,414 L706,418" stroke="#222" stroke-width="1.0" fill="none" stroke-linejoin="round" stroke-linecap="round" />
<path d="M657,417 L711,420 Q716,425 716.5,440 L718,470 L710,473 L690,470 L677,466 L677,461 L658,464 Z" stroke="#222" stroke-width="1.2" fill="#fff" stroke-linejoin="round" stroke-linecap="round" />
<path d="M655,410 L712,415 Q717,424 717,440 L718.5,471" stroke="#111" stroke-width="3.0" fill="none" stroke-linejoin="round" stroke-linecap="round" />
<path d="M706,400 L712,415" stroke="#111" stroke-width="3.0" fill="none" stroke-linejoin="round" stroke-linecap="round" />
<path d="M657,417 L711,420" stroke="#222" stroke-width="1.1" fill="none" stroke-linejoin="round" stroke-linecap="round" />
<path d="M683,423 Q683,419 689,419 Q695,419 695,423 L695,441 Q693,444 691,444 L691,453 L702,453 L702,466 L697,466 L697,470 L677,466 L677,456 Q680,455 681,453 L687,453 L687,444 Q683,443 683,440 Z" stroke="#222" stroke-width="1.1" fill="#fff" stroke-linejoin="round" stroke-linecap="round" />
<ellipse cx="671" cy="447" rx="1.3" ry="2.4" transform="rotate(0 671 447)" stroke="#222" stroke-width="1.1" fill="none"/>
<ellipse cx="670" cy="460" rx="1.3" ry="2.4" transform="rotate(0 670 460)" stroke="#222" stroke-width="1.1" fill="none"/>
<ellipse cx="699" cy="449" rx="1.3" ry="2.4" transform="rotate(0 699 449)" stroke="#222" stroke-width="1.1" fill="none"/>
<ellipse cx="699" cy="466" rx="1.3" ry="2.4" transform="rotate(0 699 466)" stroke="#222" stroke-width="1.1" fill="none"/>
<circle cx="665" cy="431" r="1" stroke="#222" stroke-width="0" fill="#111"/>
<circle cx="672" cy="426" r="0.9" stroke="#222" stroke-width="0" fill="#111"/>
<path d="M657,466 L658,534" stroke="#222" stroke-width="1.1" fill="none" stroke-linejoin="round" stroke-linecap="round" />
<path d="M661,466 L663.5,532" stroke="#111" stroke-width="2.4" fill="none" stroke-linejoin="round" stroke-linecap="round" />
<path d="M656,536 L664,534 L676,542 Q678,548 676,553.5 L670,554.5 L657,548 Z" stroke="#222" stroke-width="1.2" fill="#fff" stroke-linejoin="round" stroke-linecap="round" />
<circle cx="670" cy="548" r="1.6" stroke="#222" stroke-width="1.0" fill="none"/>
<path d="M591.5,327 L611.2,327 L645.4,430.6 Q645,439 641,439.8 L602,439.8" stroke="#222" stroke-width="1.1" fill="none" stroke-linejoin="round" stroke-linecap="round" />
<path d="M594.5,330 L608.5,330 L642,430 Q642,436 639.5,436.8 L602,436.8" stroke="#222" stroke-width="1.0" fill="none" stroke-linejoin="round" stroke-linecap="round" />
<path d="M591.5,327 L591.5,367.6 L594.5,367.6 L594.5,330" stroke="#222" stroke-width="1.1" fill="none" stroke-linejoin="round" stroke-linecap="round" />
<path d="M592.8,330.0 L592.8,366.0" stroke="#333" stroke-width="2.0" fill="none" stroke-linejoin="round" stroke-linecap="round" />
<path d="M582.4,330.9 L586.3,330.9 L586.3,367.6 L582.4,367.6 Z" stroke="#222" stroke-width="1.0" fill="none" stroke-linejoin="round" stroke-linecap="round" />
<path d="M584,368 L596.8,438.5" stroke="#222" stroke-width="1.0" fill="none" stroke-linejoin="round" stroke-linecap="round" stroke-dasharray="3,2"/>
<path d="M584.0,333.0 L584.0,365.0" stroke="#222" stroke-width="0.8" fill="none" stroke-linejoin="round" stroke-linecap="round" stroke-dasharray="2,2"/>
<path d="M557.4,430.6 L566.0,425.5" stroke="#222" stroke-width="3.7" fill="none" stroke-linejoin="round" stroke-linecap="round" />
<path d="M557.4,430.6 L566.0,425.5" stroke="#fff" stroke-width="1.3" fill="none" stroke-linejoin="round" stroke-linecap="round" />
<circle cx="557.4" cy="430.6" r="1.8" stroke="#222" stroke-width="1.2" fill="#fff"/>
<circle cx="571.9" cy="424" r="3" stroke="#222" stroke-width="1.1" fill="#fff"/>
<circle cx="571.9" cy="424" r="1.2" stroke="#222" stroke-width="0.9" fill="none"/>
<circle cx="579.7" cy="418.8" r="3" stroke="#222" stroke-width="1.1" fill="#fff"/>
<circle cx="579.7" cy="418.8" r="1.1" stroke="#222" stroke-width="0.9" fill="none"/>
<path d="M274,369.6 L393.6,371.6 Q395.5,374 392.6,376.8 L274,374.3 Q272.5,372 274,369.6 Z" stroke="#222" stroke-width="1.2" fill="#fff" stroke-linejoin="round" stroke-linecap="round" />
<path d="M275.0,372.0 L392.0,374.3" stroke="#222" stroke-width="0.8" fill="none" stroke-linejoin="round" stroke-linecap="round" />
<path d="M274,388.1 L394.6,392.3 Q400,430 409,480 L375,494.3 L332.8,494 L292.6,480 Q285,430 274,388.1 Z" stroke="#222" stroke-width="1.1" fill="#fff" stroke-linejoin="round" stroke-linecap="round" />
<circle cx="331.8" cy="488.6" r="1.5" stroke="#222" stroke-width="1.0" fill="none"/>
<circle cx="370.3" cy="489.2" r="1.5" stroke="#222" stroke-width="1.0" fill="none"/>
<path d="M263.7,392.3 Q276,430 281,480 L291.5,613.6 L295,613.6" stroke="#222" stroke-width="1.1" fill="none" stroke-linejoin="round" stroke-linecap="round" />
<path d="M267.5,391.5 Q280,430 285.5,480 L295.5,613" stroke="#111" stroke-width="2.6" fill="none" stroke-linejoin="round" stroke-linecap="round" />
<path d="M263.7,392.3 Q265,389.5 267.5,391.5" stroke="#222" stroke-width="1.2" fill="none" stroke-linejoin="round" stroke-linecap="round" />
<path d="M410.1,393.3 Q421,440 426,495 L430.5,597 L434,597" stroke="#222" stroke-width="1.1" fill="none" stroke-linejoin="round" stroke-linecap="round" />
<path d="M413.6,393 Q425,440 430.5,495 L434.5,597" stroke="#111" stroke-width="2.8" fill="none" stroke-linejoin="round" stroke-linecap="round" />
<path d="M447,400 L451.5,517 L480,520" stroke="#222" stroke-width="1.1" fill="none" stroke-linejoin="round" stroke-linecap="round" />
<path d="M447,400 L459,400.5 M462,402 Q479,445 483.5,501" stroke="#222" stroke-width="1.0" fill="none" stroke-linejoin="round" stroke-linecap="round" />
<path d="M462,388 L480,388 Q495,440 507,490 Q511,505 505,509.5 L465,509.5 Q463,506 465,502 L500,502 Q502,498 500,490 Q490,440 476,391 L462,391 Z" stroke="#222" stroke-width="1.1" fill="#fff" stroke-linejoin="round" stroke-linecap="round" />
<path d="M480,388 Q495,440 507,490 Q510,503 505,509" stroke="#111" stroke-width="2.6" fill="none" stroke-linejoin="round" stroke-linecap="round" />
<path d="M499,437 L502,437 L502,455" stroke="#222" stroke-width="1.0" fill="none" stroke-linejoin="round" stroke-linecap="round" />
<path d="M483.0,511.0 L487.5,538.0" stroke="#222" stroke-width="1.6" fill="none" stroke-linejoin="round" stroke-linecap="round" />
<path d="M481.5,540 L490,538 Q494,540 493.5,548 L486,551 Q481,549 481.5,540 Z" stroke="#222" stroke-width="1.2" fill="#fff" stroke-linejoin="round" stroke-linecap="round" />
<circle cx="488" cy="545" r="1.5" stroke="#222" stroke-width="1.0" fill="none"/>
<path d="M483,562 L496.5,562 L496.5,565.5 L483,565.5 Z" stroke="#222" stroke-width="1.1" fill="#fff" stroke-linejoin="round" stroke-linecap="round" />
<circle cx="490" cy="563.5" r="1.6" stroke="#222" stroke-width="0" fill="#111"/>
<path d="M484.5,571 L496.5,571 L496.5,582 L484.5,582 Z" stroke="#222" stroke-width="1.2" fill="#fff" stroke-linejoin="round" stroke-linecap="round" />
<ellipse cx="489" cy="576" rx="1.6" ry="3" transform="rotate(0 489 576)" stroke="#222" stroke-width="1.2" fill="none"/>
<path d="M494.0,572.0 L494.0,581.0" stroke="#222" stroke-width="1.2" fill="none" stroke-linejoin="round" stroke-linecap="round" />
<path d="M490.5,583.0 L492.0,610.0" stroke="#222" stroke-width="1.6" fill="none" stroke-linejoin="round" stroke-linecap="round" />
<path d="M457.5,560.5 L469.5,554.5" stroke="#222" stroke-width="3.9000000000000004" fill="none" stroke-linejoin="round" stroke-linecap="round" />
<path d="M457.5,560.5 L469.5,554.5" stroke="#fff" stroke-width="1.5000000000000002" fill="none" stroke-linejoin="round" stroke-linecap="round" />
<circle cx="457.5" cy="560.5" r="2.4" stroke="#222" stroke-width="1.2" fill="#fff"/>
<path d="M324.5,507 L340,503.5 L378.1,505.3 L380.2,518.7 L323.5,517.7 L323.5,512 Z" stroke="#222" stroke-width="1.2" fill="#fff" stroke-linejoin="round" stroke-linecap="round" />
<path d="M324.0,515.0 L378.0,516.5" stroke="#222" stroke-width="1.0" fill="none" stroke-linejoin="round" stroke-linecap="round" />
<path d="M380.2,507.0 L380.2,519.0" stroke="#222" stroke-width="1.8" fill="none" stroke-linejoin="round" stroke-linecap="round" />
<circle cx="333.5" cy="509.5" r="1.4" stroke="#222" stroke-width="1.0" fill="none"/>
<circle cx="372" cy="509.5" r="1.4" stroke="#222" stroke-width="1.0" fill="none"/>
<path d="M313.2,524 L365,524 L371,527 L371,538.3 L315,537 Z" stroke="#222" stroke-width="1.2" fill="#fff" stroke-linejoin="round" stroke-linecap="round" />
<path d="M371.0,527.0 L371.0,538.3" stroke="#222" stroke-width="1.8" fill="none" stroke-linejoin="round" stroke-linecap="round" />
<circle cx="328" cy="528" r="1.3" stroke="#222" stroke-width="1.0" fill="none"/>
<circle cx="355.5" cy="528" r="1.3" stroke="#222" stroke-width="1.0" fill="none"/>
<path d="M308,543 L354,542.4 L364.7,546 L364.7,556.9 L309,556.5 Z" stroke="#222" stroke-width="1.2" fill="#fff" stroke-linejoin="round" stroke-linecap="round" />
<path d="M364.7,546.0 L364.7,557.0" stroke="#222" stroke-width="1.8" fill="none" stroke-linejoin="round" stroke-linecap="round" />
<circle cx="325" cy="546.5" r="1.3" stroke="#222" stroke-width="1.0" fill="none"/>
<circle cx="349" cy="546.5" r="1.3" stroke="#222" stroke-width="1.0" fill="none"/>
<path d="M296.7,570 Q304.7,560 326.7,560 L354.7,562 Q367.7,566 366.7,571 Q364.7,578 346.7,581 L318.7,581.5 Q301.7,580 296.7,570 Z" stroke="#222" stroke-width="1.2" fill="#fff" stroke-linejoin="round" stroke-linecap="round" />
<path d="M314.7,564 L318.7,563 L318.7,578 L314.7,578 M326.7,564 L331.7,564 L332.7,578 L327.7,578" stroke="#222" stroke-width="1.2" fill="none" stroke-linejoin="round" stroke-linecap="round" />
<circle cx="316.7" cy="564" r="2.5" stroke="#222" stroke-width="1.1" fill="#fff"/>
<circle cx="316.7" cy="578" r="2.5" stroke="#222" stroke-width="1.1" fill="#fff"/>
<circle cx="329.7" cy="564" r="2.5" stroke="#222" stroke-width="1.1" fill="#fff"/>
<circle cx="329.7" cy="578" r="2.5" stroke="#222" stroke-width="1.1" fill="#fff"/>
<path d="M336.7,563.0 L341.7,579.0" stroke="#222" stroke-width="1.8" fill="none" stroke-linejoin="round" stroke-linecap="round" />
<path d="M344.7,566 L358.7,565 L362.7,571 L348.7,573 Z" stroke="#222" stroke-width="1.1" fill="none" stroke-linejoin="round" stroke-linecap="round" />
<circle cx="305.7" cy="570.5" r="1.4" stroke="#222" stroke-width="1.0" fill="none"/>
<circle cx="310.7" cy="576" r="1.2" stroke="#222" stroke-width="1.0" fill="none"/>
<path d="M359.6,603 Q367.6,593 389.6,593 L417.6,595 Q430.6,599 429.6,604 Q427.6,611 409.6,614 L381.6,614.5 Q364.6,613 359.6,603 Z" stroke="#222" stroke-width="1.2" fill="#fff" stroke-linejoin="round" stroke-linecap="round" />
<path d="M377.6,597 L381.6,596 L381.6,611 L377.6,611 M389.6,597 L394.6,597 L395.6,611 L390.6,611" stroke="#222" stroke-width="1.2" fill="none" stroke-linejoin="round" stroke-linecap="round" />
<circle cx="379.6" cy="597" r="2.5" stroke="#222" stroke-width="1.1" fill="#fff"/>
<circle cx="379.6" cy="611" r="2.5" stroke="#222" stroke-width="1.1" fill="#fff"/>
<circle cx="392.6" cy="597" r="2.5" stroke="#222" stroke-width="1.1" fill="#fff"/>
<circle cx="392.6" cy="611" r="2.5" stroke="#222" stroke-width="1.1" fill="#fff"/>
<path d="M399.6,596.0 L404.6,612.0" stroke="#222" stroke-width="1.8" fill="none" stroke-linejoin="round" stroke-linecap="round" />
<path d="M407.6,599 L421.6,598 L425.6,604 L411.6,606 Z" stroke="#222" stroke-width="1.1" fill="none" stroke-linejoin="round" stroke-linecap="round" />
<circle cx="368.6" cy="603.5" r="1.4" stroke="#222" stroke-width="1.0" fill="none"/>
<circle cx="373.6" cy="609" r="1.2" stroke="#222" stroke-width="1.0" fill="none"/>
<path d="M417,598 L428,597 L455,609 L460,612 L460,618.7 L452,619 L440,613 L420,612" stroke="#222" stroke-width="1.2" fill="#fff" stroke-linejoin="round" stroke-linecap="round" />
<path d="M424,604.6 L443.7,619 L477.8,621.7 M430,600 L448,612.5 L478,615" stroke="#222" stroke-width="1.2" fill="none" stroke-linejoin="round" stroke-linecap="round" />
<path d="M252.4,577.5 L263.7,571.3" stroke="#222" stroke-width="4.1" fill="none" stroke-linejoin="round" stroke-linecap="round" />
<path d="M252.4,577.5 L263.7,571.3" stroke="#fff" stroke-width="1.7" fill="none" stroke-linejoin="round" stroke-linecap="round" />
<circle cx="252.4" cy="577.5" r="2.8" stroke="#222" stroke-width="1.2" fill="#fff"/>
<ellipse cx="267.8" cy="566.1" rx="2.4" ry="2.2" transform="rotate(0 267.8 566.1)" stroke="#222" stroke-width="0.9" fill="none"/>
<circle cx="277.1" cy="560" r="2.8" stroke="#222" stroke-width="1.3" fill="#fff"/>
<path d="M275.42,561.12 A2.2399999999999998,2.2399999999999998 0 0 0 279.06,560.84" stroke="#222" stroke-width="1.6" fill="none" stroke-linejoin="round" stroke-linecap="round" />
<circle cx="277.1" cy="559.5" r="0.9799999999999999" stroke="#222" stroke-width="0.9" fill="none"/>
<ellipse cx="416.3" cy="564" rx="2.2" ry="2.8" transform="rotate(-30 416.3 564)" stroke="#222" stroke-width="1.0" fill="none"/>
<circle cx="402.9" cy="575.4" r="3.2" stroke="#222" stroke-width="1.1" fill="#fff"/>
<circle cx="402.9" cy="575.4" r="1.2" stroke="#222" stroke-width="0.9" fill="none"/>
<path d="M384.3,590.9 L393.6,583.7" stroke="#222" stroke-width="4.1" fill="none" stroke-linejoin="round" stroke-linecap="round" />
<path d="M384.3,590.9 L393.6,583.7" stroke="#fff" stroke-width="1.7" fill="none" stroke-linejoin="round" stroke-linecap="round" />
<circle cx="384.3" cy="590.9" r="2.8" stroke="#222" stroke-width="1.2" fill="#fff"/>
<path d="M313.2,633.1 L324.5,624.9" stroke="#222" stroke-width="4.3" fill="none" stroke-linejoin="round" stroke-linecap="round" />
<path d="M313.2,633.1 L324.5,624.9" stroke="#fff" stroke-width="1.9000000000000001" fill="none" stroke-linejoin="round" stroke-linecap="round" />
<circle cx="313.2" cy="633.1" r="3.2" stroke="#222" stroke-width="1.2" fill="#fff"/>
<circle cx="330.7" cy="621.2" r="3.2" stroke="#222" stroke-width="1.1" fill="#fff"/>
<circle cx="330.7" cy="621.2" r="1.2" stroke="#222" stroke-width="0.9" fill="none"/>
<ellipse cx="338.6" cy="616.6" rx="2.8" ry="3.3" transform="rotate(0 338.6 616.6)" stroke="#222" stroke-width="1.2" fill="none"/>
<circle cx="345.2" cy="612.5" r="3" stroke="#222" stroke-width="1.3" fill="#fff"/>
<path d="M343.4,613.7 A2.4000000000000004,2.4000000000000004 0 0 0 347.3,613.4" stroke="#222" stroke-width="1.6" fill="none" stroke-linejoin="round" stroke-linecap="round" />
<circle cx="345.2" cy="612.0" r="1.0499999999999998" stroke="#222" stroke-width="0.9" fill="none"/>
<path d="M333.8,586.8 Q355,650 370,700 L377.5,739.6 L385.9,738.7 Q375,680 360,630 L343,585.7 Z" stroke="#222" stroke-width="1.0" fill="#fff" stroke-linejoin="round" stroke-linecap="round" />
<path d="M343,585.7 Q360,630 372,680 L385.9,738.7" stroke="#111" stroke-width="2.2" fill="none" stroke-linejoin="round" stroke-linecap="round" />
<circle cx="363.4" cy="702.7" r="3.0" stroke="#222" stroke-width="1.3" fill="#fff"/>
<path d="M361.59999999999997,703.9000000000001 A2.4000000000000004,2.4000000000000004 0 0 0 365.5,703.6" stroke="#222" stroke-width="1.6" fill="none" stroke-linejoin="round" stroke-linecap="round" />
<circle cx="363.4" cy="702.2" r="1.0499999999999998" stroke="#222" stroke-width="0.9" fill="none"/>
<circle cx="355.9" cy="708.3" r="3.0" stroke="#222" stroke-width="1.1" fill="#fff"/>
<circle cx="355.9" cy="708.3" r="1.2" stroke="#222" stroke-width="0.9" fill="none"/>
<circle cx="346.5" cy="714.5" r="3" stroke="#222" stroke-width="1.1" fill="#fff"/>
<circle cx="346.5" cy="714.5" r="1.2" stroke="#222" stroke-width="0.9" fill="none"/>
<circle cx="339.6" cy="719.6" r="2.6" stroke="#222" stroke-width="1.1" fill="#fff"/>
<circle cx="339.6" cy="719.6" r="1.0" stroke="#222" stroke-width="0.9" fill="none"/>
<circle cx="329.3" cy="727.5" r="3" stroke="#222" stroke-width="1.3" fill="#fff"/>
<path d="M327.5,728.7 A2.4000000000000004,2.4000000000000004 0 0 0 331.40000000000003,728.4" stroke="#222" stroke-width="1.6" fill="none" stroke-linejoin="round" stroke-linecap="round" />
<circle cx="329.3" cy="727.0" r="1.0499999999999998" stroke="#222" stroke-width="0.9" fill="none"/>
<path d="M360.6,732.1 L375.6,723.7" stroke="#222" stroke-width="3.4" fill="none" stroke-linejoin="round" stroke-linecap="round" />
<path d="M361.0,731.8 L375.0,724.0" stroke="#fff" stroke-width="1.2" fill="none" stroke-linejoin="round" stroke-linecap="round" />
<path d="M477.8,623 L577.5,627 L578.8,655.8 L477.8,651.9 Z" stroke="#222" stroke-width="1.3" fill="#fff" stroke-linejoin="round" stroke-linecap="round" />
<circle cx="498.8" cy="636.1" r="10" stroke="#222" stroke-width="1.3" fill="#fff"/>
<circle cx="498.8" cy="636.1" r="6" stroke="#222" stroke-width="1.0" fill="none"/>
<circle cx="498.8" cy="636.1" r="3" stroke="#222" stroke-width="1.0" fill="none"/>
<circle cx="498.8" cy="636.1" r="1" stroke="#222" stroke-width="0" fill="#111"/>
<path d="M508,633 L516,635 Q518,639 515,641 L507,640" stroke="#222" stroke-width="1.2" fill="#fff" stroke-linejoin="round" stroke-linecap="round" />
<circle cx="482.5" cy="627.5" r="1.5" stroke="#222" stroke-width="1.0" fill="none"/>
<circle cx="482" cy="648" r="1.5" stroke="#222" stroke-width="1.0" fill="none"/>
<circle cx="537" cy="629" r="1.5" stroke="#222" stroke-width="1.0" fill="none"/>
<circle cx="573.5" cy="631" r="1.5" stroke="#222" stroke-width="1.0" fill="none"/>
<circle cx="573.5" cy="641" r="1.5" stroke="#222" stroke-width="1.0" fill="none"/>
<circle cx="573.5" cy="652" r="1.5" stroke="#222" stroke-width="1.0" fill="none"/>
<circle cx="563" cy="651" r="1.5" stroke="#222" stroke-width="1.0" fill="none"/>
<circle cx="563" cy="637" r="1.5" stroke="#222" stroke-width="1.0" fill="none"/>
<circle cx="547" cy="644" r="3" stroke="#222" stroke-width="1.0" fill="none"/>
<path d="M547.3,592 L552,586.2 L577,586.5 L580.2,594 L580.2,646 L568,646 L568,625 L547.3,624.3 Z" stroke="#222" stroke-width="1.2" fill="#fff" stroke-linejoin="round" stroke-linecap="round" />
<path d="M568.3,594 L580.2,594 L580.2,646.6 L571,646 Z" stroke="#222" stroke-width="0.5" fill="#111" stroke-linejoin="round" stroke-linecap="round" />
<path d="M547.3,594 L568.3,594 L568.3,625" stroke="#222" stroke-width="1.1" fill="none" stroke-linejoin="round" stroke-linecap="round" />
<path d="M551,589 L558,588 L560,591 L570,590 L565,593 L552,593" stroke="#222" stroke-width="1.0" fill="none" stroke-linejoin="round" stroke-linecap="round" />
<circle cx="553.5" cy="602" r="1" stroke="#222" stroke-width="0" fill="#111"/>
<circle cx="563" cy="602" r="1" stroke="#222" stroke-width="0" fill="#111"/>
<path d="M526,619 L530,614 L535,617 L532,622" stroke="#222" stroke-width="1.1" fill="none" stroke-linejoin="round" stroke-linecap="round" />
<path d="M540,622 L545,617 L549,620" stroke="#222" stroke-width="1.1" fill="none" stroke-linejoin="round" stroke-linecap="round" />
<path d="M524,660 L530,657 L531,663" stroke="#222" stroke-width="1.1" fill="none" stroke-linejoin="round" stroke-linecap="round" />
<circle cx="565.7" cy="666.3" r="2.8" stroke="#222" stroke-width="1.3" fill="#fff"/>
<path d="M564.0200000000001,667.42 A2.2399999999999998,2.2399999999999998 0 0 0 567.6600000000001,667.14" stroke="#222" stroke-width="1.6" fill="none" stroke-linejoin="round" stroke-linecap="round" />
<circle cx="565.7" cy="665.8" r="0.9799999999999999" stroke="#222" stroke-width="0.9" fill="none"/>
<circle cx="560.5" cy="673.4" r="2.8" stroke="#222" stroke-width="1.1" fill="#fff"/>
<circle cx="560.5" cy="673.4" r="1" stroke="#222" stroke-width="0.9" fill="none"/>
<path d="M551.5,680 Q553.5,677 556,680" stroke="#222" stroke-width="1.0" fill="none" stroke-linejoin="round" stroke-linecap="round" />
<path d="M539.5,693.9 L550.0,683.4" stroke="#222" stroke-width="4.1" fill="none" stroke-linejoin="round" stroke-linecap="round" />
<path d="M539.5,693.9 L550.0,683.4" stroke="#fff" stroke-width="1.7" fill="none" stroke-linejoin="round" stroke-linecap="round" />
<circle cx="539.5" cy="693.9" r="2.8" stroke="#222" stroke-width="1.2" fill="#fff"/>
<path d="M615.0,598.0 L630.0,590.5" stroke="#222" stroke-width="4.3" fill="none" stroke-linejoin="round" stroke-linecap="round" />
<path d="M615.0,598.0 L630.0,590.5" stroke="#fff" stroke-width="1.9000000000000001" fill="none" stroke-linejoin="round" stroke-linecap="round" />
<circle cx="615" cy="598" r="3" stroke="#222" stroke-width="1.2" fill="#fff"/>
<circle cx="635.4" cy="586.6" r="2.4" stroke="#222" stroke-width="1.1" fill="#fff"/>
<circle cx="635.4" cy="586.6" r="0.9" stroke="#222" stroke-width="0.9" fill="none"/>
<circle cx="642.5" cy="581.5" r="3.2" stroke="#222" stroke-width="1.1" fill="#fff"/>
<circle cx="642.5" cy="581.5" r="1.3" stroke="#222" stroke-width="0.9" fill="none"/>
<path d="M658.5,560 L664,559 L674,568 Q676,575 675,584.5 L666,586 Q660,585 659,578 Z" stroke="#222" stroke-width="1.2" fill="#fff" stroke-linejoin="round" stroke-linecap="round" />
<path d="M663,570 L670,572 L671,580 L664,578 Z" stroke="#222" stroke-width="1.1" fill="none" stroke-linejoin="round" stroke-linecap="round" />
<path d="M674.0,568.0 L675.0,584.5" stroke="#222" stroke-width="2.2" fill="none" stroke-linejoin="round" stroke-linecap="round" />
<circle cx="683" cy="555" r="2.8" stroke="#222" stroke-width="1.3" fill="#fff"/>
<path d="M681.32,556.12 A2.2399999999999998,2.2399999999999998 0 0 0 684.96,555.84" stroke="#222" stroke-width="1.6" fill="none" stroke-linejoin="round" stroke-linecap="round" />
<circle cx="683" cy="554.5" r="0.9799999999999999" stroke="#222" stroke-width="0.9" fill="none"/>
<path d="M678.0,483.0 L691.5,484.0" stroke="#222" stroke-width="3.9000000000000004" fill="none" stroke-linejoin="round" stroke-linecap="round" />
<path d="M678.0,483.0 L691.5,484.0" stroke="#fff" stroke-width="1.5000000000000002" fill="none" stroke-linejoin="round" stroke-linecap="round" />
<circle cx="678" cy="483" r="2.6" stroke="#222" stroke-width="1.2" fill="#fff"/>
<circle cx="697.4" cy="484.6" r="2.8" stroke="#222" stroke-width="1.1" fill="#fff"/>
<circle cx="697.4" cy="484.6" r="1.1" stroke="#222" stroke-width="0.9" fill="none"/>
<circle cx="708.5" cy="485.5" r="3" stroke="#222" stroke-width="1.1" fill="#fff"/>
<circle cx="708.5" cy="485.5" r="1.2" stroke="#222" stroke-width="0.9" fill="none"/>
<circle cx="720" cy="487" r="3" stroke="#222" stroke-width="1.3" fill="#fff"/>
<path d="M718.2,488.2 A2.4000000000000004,2.4000000000000004 0 0 0 722.1,487.9" stroke="#222" stroke-width="1.6" fill="none" stroke-linejoin="round" stroke-linecap="round" />
<circle cx="720" cy="486.5" r="1.0499999999999998" stroke="#222" stroke-width="0.9" fill="none"/>
<path d="M760,440 Q763,436 770,437.5 L776,441 L790,441 L798,439 Q806,437 808,444 Q808,449 804,451 L803,462 L807,468 Q808,474 802,475 L796,474 L787,470 L776,472 L770,475 Q762,476 761,470 Q761,466 765,464 L766,449 Q760,446 760,440 Z" stroke="#222" stroke-width="1.3" fill="#fff" stroke-linejoin="round" stroke-linecap="round" />
<path d="M771,441.5 L776,441 L777,448 L773,448 Z" stroke="#222" stroke-width="0.5" fill="#111" stroke-linejoin="round" stroke-linecap="round" />
<circle cx="764.5" cy="440" r="1.7" stroke="#222" stroke-width="1.1" fill="none"/>
<circle cx="804.5" cy="444" r="1.7" stroke="#222" stroke-width="1.1" fill="none"/>
<circle cx="764" cy="469" r="1.7" stroke="#222" stroke-width="1.1" fill="none"/>
<circle cx="802" cy="471" r="1.7" stroke="#222" stroke-width="1.1" fill="none"/>
<ellipse cx="780" cy="444" rx="3" ry="1.8" transform="rotate(0 780 444)" stroke="#222" stroke-width="1.1" fill="#fff"/>
<circle cx="780" cy="444" r="0.9" stroke="#222" stroke-width="0" fill="#111"/>
<path d="M770,450 Q782,446 797,452 L798,466 Q792,470 787,470 L776,471" stroke="#222" stroke-width="1.2" fill="none" stroke-linejoin="round" stroke-linecap="round" />
<path d="M792,452 Q800,456 798,466" stroke="#111" stroke-width="2.2" fill="none" stroke-linejoin="round" stroke-linecap="round" />
<path d="M776,466 L787,459 Q792,458 793,462 Q793,466 789,468 L779,472 Z" stroke="#222" stroke-width="1.2" fill="#fff" stroke-linejoin="round" stroke-linecap="round" />
<ellipse cx="791" cy="463" rx="2.2" ry="3" transform="rotate(30 791 463)" stroke="#222" stroke-width="1.1" fill="#fff"/>
<path d="M833,446 L866,447 Q869,450 868,455 L865,456.4 L833,455 Q831,450 833,446 Z" stroke="#222" stroke-width="1.2" fill="#fff" stroke-linejoin="round" stroke-linecap="round" />
<path d="M846.5,446.5 L851.5,446.8 L851.5,455.5 L846.5,455.2 Z" stroke="#222" stroke-width="0.5" fill="#111" stroke-linejoin="round" stroke-linecap="round" />
<circle cx="838" cy="451" r="1" stroke="#222" stroke-width="0" fill="#111"/>
<circle cx="862" cy="451" r="1" stroke="#222" stroke-width="0" fill="#111"/>
<path d="M881.5,438.9 L872.3,446.0" stroke="#222" stroke-width="4.1" fill="none" stroke-linejoin="round" stroke-linecap="round" />
<path d="M881.5,438.9 L872.3,446.0" stroke="#fff" stroke-width="1.7" fill="none" stroke-linejoin="round" stroke-linecap="round" />
<circle cx="881.5" cy="438.9" r="0.1" stroke="#222" stroke-width="1.2" fill="#fff"/>
<ellipse cx="851.6" cy="465.3" rx="2.2" ry="2.6" transform="rotate(0 851.6 465.3)" stroke="#222" stroke-width="1.0" fill="none"/>
<ellipse cx="851.6" cy="465.3" rx="0.8" ry="1" transform="rotate(0 851.6 465.3)" stroke="#222" stroke-width="0.8" fill="none"/>
<circle cx="841.3" cy="471.9" r="3" stroke="#222" stroke-width="1.3" fill="#fff"/>
<path d="M839.5,473.09999999999997 A2.4000000000000004,2.4000000000000004 0 0 0 843.4,472.79999999999995" stroke="#222" stroke-width="1.6" fill="none" stroke-linejoin="round" stroke-linecap="round" />
<circle cx="841.3" cy="471.4" r="1.0499999999999998" stroke="#222" stroke-width="0.9" fill="none"/>
<circle cx="788.8" cy="484.2" r="2.8" stroke="#222" stroke-width="1.1" fill="#fff"/>
<circle cx="788.8" cy="484.2" r="1.1" stroke="#222" stroke-width="0.9" fill="none"/>
<ellipse cx="779.5" cy="491.4" rx="1.4" ry="2.4" transform="rotate(0 779.5 491.4)" stroke="#222" stroke-width="1.0" fill="none"/>
<path d="M766.0,503.8 L776.4,495.6" stroke="#222" stroke-width="4.3" fill="none" stroke-linejoin="round" stroke-linecap="round" />
<path d="M766.0,503.8 L776.4,495.6" stroke="#fff" stroke-width="1.9000000000000001" fill="none" stroke-linejoin="round" stroke-linecap="round" />
<circle cx="766" cy="503.8" r="3" stroke="#222" stroke-width="1.2" fill="#fff"/>
<ellipse cx="777.4" cy="526" rx="4" ry="2.2" transform="rotate(0 777.4 526)" stroke="#222" stroke-width="1.2" fill="#fff"/>
<ellipse cx="777.4" cy="526" rx="2" ry="1" transform="rotate(0 777.4 526)" stroke="#222" stroke-width="0.9" fill="none"/>
<path d="M777,538 L780,538 L780.2,551 L777,551 Z" stroke="#222" stroke-width="1.2" fill="#fff" stroke-linejoin="round" stroke-linecap="round" />
<ellipse cx="778.5" cy="553.3" rx="2.6" ry="1.8" transform="rotate(0 778.5 553.3)" stroke="#222" stroke-width="1.2" fill="#fff"/>
<path d="M776.5,540.0 L780.5,540.0" stroke="#222" stroke-width="0.6" fill="none" stroke-linejoin="round" stroke-linecap="round" />
<path d="M776.5,542.3 L780.5,542.3" stroke="#222" stroke-width="0.6" fill="none" stroke-linejoin="round" stroke-linecap="round" />
<path d="M776.5,544.6 L780.5,544.6" stroke="#222" stroke-width="0.6" fill="none" stroke-linejoin="round" stroke-linecap="round" />
<path d="M776.5,546.9 L780.5,546.9" stroke="#222" stroke-width="0.6" fill="none" stroke-linejoin="round" stroke-linecap="round" />
<path d="M776.5,549.2 L780.5,549.2" stroke="#222" stroke-width="0.6" fill="none" stroke-linejoin="round" stroke-linecap="round" />
<path d="M884.7,508.9 L889.5,497.9 L919.7,498.6 L911.5,508.9 Z" stroke="#222" stroke-width="1.2" fill="#fff" stroke-linejoin="round" stroke-linecap="round" />
<path d="M892,501 Q898,503 905,501 M894,505 Q902,506 910,503" stroke="#222" stroke-width="0.8" fill="none" stroke-linejoin="round" stroke-linecap="round" />
<path d="M884.7,508.9 L911.5,508.9 L911.5,544.6 L884.7,544.6 Z" stroke="#222" stroke-width="1.3" fill="#fff" stroke-linejoin="round" stroke-linecap="round" />
<path d="M911.5,508.9 L919.7,498.6 L920.4,540 L911.5,544.6 Z" stroke="#222" stroke-width="0.5" fill="#111" stroke-linejoin="round" stroke-linecap="round" />
<path d="M887.4,511 L908,511 L908,542.5 L887.4,542.5 Z" stroke="#222" stroke-width="1.0" fill="none" stroke-linejoin="round" stroke-linecap="round" />
<circle cx="891" cy="516.5" r="1" stroke="#222" stroke-width="0" fill="#111"/>
<circle cx="902.5" cy="518.5" r="1" stroke="#222" stroke-width="0" fill="#111"/>
<circle cx="891" cy="537.5" r="1" stroke="#222" stroke-width="0" fill="#111"/>
<circle cx="902.5" cy="539" r="1" stroke="#222" stroke-width="0" fill="#111"/>
<path d="M884,510 L875,535" stroke="#222" stroke-width="0.9" fill="none" stroke-linejoin="round" stroke-linecap="round" />
<circle cx="877.1" cy="537" r="4.2" stroke="#222" stroke-width="1.2" fill="#fff"/>
<path d="M879.5,533.5 Q882,537 879.5,540.5" stroke="#222" stroke-width="1.6" fill="none" stroke-linejoin="round" stroke-linecap="round" />
<ellipse cx="876.5" cy="537" rx="1.6" ry="1.3" transform="rotate(0 876.5 537)" stroke="#222" stroke-width="0.9" fill="none"/>
<path d="M905.3,544.6 L905.3,583 L909.4,583 L909.4,544.6" stroke="#222" stroke-width="1.0" fill="none" stroke-linejoin="round" stroke-linecap="round" />
<path d="M874,548 Q876,546 880,546.5 L900,549 Q904,551 904,556 L904.5,577 Q903,582 897,582.5 L879,582 Q870,579 868,572 Q867,560 870,553 Z" stroke="#222" stroke-width="1.1" fill="#fff" stroke-linejoin="round" stroke-linecap="round" />
<circle cx="884.7" cy="566" r="4.3" stroke="#222" stroke-width="1.2" fill="none"/>
<circle cx="877.1" cy="548.7" r="1.5" stroke="#222" stroke-width="1.0" fill="none"/>
<circle cx="900.5" cy="551.5" r="1.5" stroke="#222" stroke-width="1.0" fill="none"/>
<circle cx="870.2" cy="575" r="1.5" stroke="#222" stroke-width="1.0" fill="none"/>
<circle cx="897.7" cy="579" r="1.5" stroke="#222" stroke-width="1.0" fill="none"/>
<path d="M909.4,548 L915,546 Q921,548 920,555 L915.5,559 L909.4,560" stroke="#222" stroke-width="1.2" fill="#fff" stroke-linejoin="round" stroke-linecap="round" />
<circle cx="914.9" cy="551.5" r="2.3" stroke="#222" stroke-width="1.0" fill="none"/>
<path d="M909.4,572 L915,571 Q921,573 921,580 L915.5,584 L909.4,584" stroke="#222" stroke-width="1.2" fill="#fff" stroke-linejoin="round" stroke-linecap="round" />
<circle cx="914.9" cy="577" r="2.3" stroke="#222" stroke-width="1.0" fill="none"/>
<path d="M909.4,560 L915,562 L915,571" stroke="#222" stroke-width="1.0" fill="none" stroke-linejoin="round" stroke-linecap="round" />
<ellipse cx="907" cy="584.5" rx="2.2" ry="1.5" transform="rotate(0 907 584.5)" stroke="#222" stroke-width="1.0" fill="none"/>
<path d="M839,560.5 L842,560.5 L842,570.8 L839,570.8 Z" stroke="#222" stroke-width="1.1" fill="#fff" stroke-linejoin="round" stroke-linecap="round" />
<path d="M849.5,554.3 L851.7,554.3 L851.7,567.7 L849.5,567.7 Z" stroke="#222" stroke-width="1.1" fill="#999" stroke-linejoin="round" stroke-linecap="round" />
<ellipse cx="865.2" cy="591.2" rx="5.5" ry="4" transform="rotate(-15 865.2 591.2)" stroke="#222" stroke-width="1.2" fill="none"/>
<ellipse cx="865.2" cy="591.2" rx="3.3" ry="2.2" transform="rotate(-15 865.2 591.2)" stroke="#222" stroke-width="1.0" fill="none"/>
<ellipse cx="857.3" cy="601.7" rx="5" ry="3.8" transform="rotate(-15 857.3 601.7)" stroke="#222" stroke-width="1.2" fill="none"/>
<ellipse cx="857.3" cy="601.7" rx="3" ry="2" transform="rotate(-15 857.3 601.7)" stroke="#222" stroke-width="1.0" fill="none"/>
<path d="M829,630 Q828,622 835,619 L844,618.7 Q849,621 849.5,627 L848,634 L840,637 L832,637 Z" stroke="#222" stroke-width="1.2" fill="#fff" stroke-linejoin="round" stroke-linecap="round" />
<path d="M834.0,619.5 L833.0,624.0" stroke="#222" stroke-width="1.0" fill="none" stroke-linejoin="round" stroke-linecap="round" />
<path d="M836.3,619.5 L835.4,624.0" stroke="#222" stroke-width="1.0" fill="none" stroke-linejoin="round" stroke-linecap="round" />
<path d="M838.6,619.5 L837.8,624.0" stroke="#222" stroke-width="1.0" fill="none" stroke-linejoin="round" stroke-linecap="round" />
<path d="M840.9,619.5 L840.2,624.0" stroke="#222" stroke-width="1.0" fill="none" stroke-linejoin="round" stroke-linecap="round" />
<path d="M843.2,619.5 L842.6,624.0" stroke="#222" stroke-width="1.0" fill="none" stroke-linejoin="round" stroke-linecap="round" />
<path d="M845.5,619.5 L845.0,624.0" stroke="#222" stroke-width="1.0" fill="none" stroke-linejoin="round" stroke-linecap="round" />
<path d="M847.8,619.5 L847.4,624.0" stroke="#222" stroke-width="1.0" fill="none" stroke-linejoin="round" stroke-linecap="round" />
<path d="M843.0,622.0 L853.0,607.0" stroke="#222" stroke-width="1.2" fill="none" stroke-linejoin="round" stroke-linecap="round" />
<circle cx="836" cy="633" r="1.5" stroke="#222" stroke-width="1.0" fill="none"/>
<path d="M829,637 L832,641 L835,638" stroke="#222" stroke-width="1.0" fill="none" stroke-linejoin="round" stroke-linecap="round" />
<path d="M881.0,624.0 L891.5,610.9" stroke="#222" stroke-width="4.1" fill="none" stroke-linejoin="round" stroke-linecap="round" />
<path d="M881.0,624.0 L891.5,610.9" stroke="#fff" stroke-width="1.7" fill="none" stroke-linejoin="round" stroke-linecap="round" />
<circle cx="881" cy="624" r="2.8" stroke="#222" stroke-width="1.2" fill="#fff"/>
<path d="M895,601 L899,595.5 Q902,596 902,599 L898.5,605 Q895,605 895,601 Z" stroke="#222" stroke-width="1.2" fill="#fff" stroke-linejoin="round" stroke-linecap="round" />
<path d="M743.2,649 L844.2,652.9 L845.5,683 L744.5,679.1 Z" stroke="#222" stroke-width="1.3" fill="#fff" stroke-linejoin="round" stroke-linecap="round" />
<path d="M664,644 Q660,646 662,650 L691,663 L743,661.5 L743,654 L693,656 Z" stroke="#222" stroke-width="1.3" fill="#fff" stroke-linejoin="round" stroke-linecap="round" />
<path d="M691,655.5 L700,656 L698,662.8 L691,663 Z" stroke="#222" stroke-width="0.8" fill="#111" stroke-linejoin="round" stroke-linecap="round" />
<path d="M736,654.5 L743,654 L743,661.5 L737,661.6 Q734,658 736,654.5 Z" stroke="#222" stroke-width="0.8" fill="#111" stroke-linejoin="round" stroke-linecap="round" />
<circle cx="664.5" cy="647.5" r="1.3" stroke="#222" stroke-width="0" fill="#111"/>
<circle cx="748" cy="654.5" r="1.5" stroke="#222" stroke-width="1.1" fill="none"/>
<circle cx="748" cy="677" r="1.5" stroke="#222" stroke-width="1.1" fill="none"/>
<circle cx="804" cy="655.5" r="1.5" stroke="#222" stroke-width="1.1" fill="none"/>
<circle cx="839.5" cy="657.5" r="1.5" stroke="#222" stroke-width="1.1" fill="none"/>
<circle cx="840.5" cy="668" r="1.5" stroke="#222" stroke-width="1.1" fill="none"/>
<circle cx="840.5" cy="678" r="1.5" stroke="#222" stroke-width="1.1" fill="none"/>
<circle cx="829" cy="665" r="1.5" stroke="#222" stroke-width="1.1" fill="none"/>
<circle cx="829" cy="676" r="1.5" stroke="#222" stroke-width="1.1" fill="none"/>
<circle cx="812.5" cy="668" r="3" stroke="#222" stroke-width="1.2" fill="none"/>
<path d="M765,670 L771,664 Q774,664 774,667 L768,673 Q765,673 765,670 Z" stroke="#222" stroke-width="1.3" fill="#fff" stroke-linejoin="round" stroke-linecap="round" />
<circle cx="783.5" cy="669" r="3" stroke="#222" stroke-width="1.3" fill="#fff"/>
<circle cx="786" cy="664.5" r="2.4" stroke="#222" stroke-width="1.2" fill="#fff"/>
<path d="M783,650 L790,643.5 L797,646 L795,651" stroke="#222" stroke-width="1.2" fill="#fff" stroke-linejoin="round" stroke-linecap="round" />
<path d="M784,647 L788,644 M791,644 L795,647" stroke="#222" stroke-width="1.6" fill="none" stroke-linejoin="round" stroke-linecap="round" />
<path d="M782,681 L790,690 L798,684 L795,680" stroke="#222" stroke-width="1.2" fill="#fff" stroke-linejoin="round" stroke-linecap="round" />
<path d="M793,682 L797,686" stroke="#222" stroke-width="2.0" fill="none" stroke-linejoin="round" stroke-linecap="round" />
<circle cx="740.6" cy="704" r="11" stroke="#222" stroke-width="1.4" fill="#fff"/>
<path d="M740.6,704 m-8,0 a8,7.5 0 1,0 16,0 a7,6.5 0 1,0 -13,0 a5,5 0 1,0 10,0 a4,3.5 0 1,0 -7,0 a2,2 0 1,0 4,0" stroke="#222" stroke-width="1.1" fill="none" stroke-linejoin="round" stroke-linecap="round" />
<path d="M750,700 Q755,702 758.5,705 L757,708 Q753,707 749.5,706" stroke="#222" stroke-width="1.3" fill="#111" stroke-linejoin="round" stroke-linecap="round" />
<path d="M3.0,199.0 L6.0,201.0" stroke="#777" stroke-width="1.0" fill="none" stroke-linejoin="round" stroke-linecap="round" />
</g>
<g transform="scale(0.74,1)" font-family="Liberation Sans" font-weight="bold" font-size="12.4" fill="#111" stroke="#111" stroke-width="0.45" letter-spacing="1.0" text-anchor="middle">
<text x="162.2" y="96.2">7</text>
<text x="149.3" y="107.2">6</text>
<text x="192.6" y="112.7">8</text>
<text x="265.5" y="101.2">11</text>
<text x="253.4" y="111.2">10</text>
<text x="242.6" y="122.2">9</text>
<text x="326.4" y="111.2">8</text>
<text x="95.9" y="131.2">5</text>
<text x="145.9" y="129.7">4</text>
<text x="114.2" y="160.7">3</text>
<text x="96.6" y="177.2">2</text>
<text x="85.1" y="189.2">1</text>
<text x="473.6" y="132.7">24</text>
<text x="450.0" y="145.7">23</text>
<text x="409.5" y="168.9">22</text>
<text x="523.3" y="172.7">25</text>
<text x="566.6" y="175.9">26</text>
<text x="581.8" y="148.9">27</text>
<text x="599.3" y="140.9">28</text>
<text x="615.5" y="134.7">29</text>
<text x="599.3" y="185.7">30</text>
<text x="565.5" y="208.2">31</text>
<text x="523.3" y="228.9">36</text>
<text x="508.1" y="260.7">35</text>
<text x="563.9" y="261.2">11</text>
<text x="583.1" y="261.2">37</text>
<text x="604.7" y="261.2">37</text>
<text x="625.7" y="261.2">11</text>
<text x="508.1" y="283.9">38</text>
<text x="625.7" y="292.7">42</text>
<text x="607.1" y="302.7">41</text>
<text x="288.5" y="270.7">21</text>
<text x="273.6" y="303.4">20</text>
<text x="236.1" y="345.7">18</text>
<text x="235.3" y="387.7">17</text>
<text x="186.5" y="367.1">16</text>
<text x="162.4" y="378.7">15</text>
<text x="142.2" y="387.7">14</text>
<text x="124.3" y="395.6">13</text>
<text x="80.5" y="415.4">12</text>
<text x="279.5" y="374.9">19</text>
<text x="683.4" y="133.9">32</text>
<text x="683.4" y="153.6">33</text>
<text x="683.4" y="180.4">34</text>
<text x="676.4" y="209.9">35</text>
<text x="737.2" y="226.7">39</text>
<text x="779.7" y="246.4">91</text>
<text x="830.4" y="246.4">90</text>
<text x="906.8" y="91.0">43</text>
<text x="861.9" y="112.0">44</text>
<text x="949.6" y="124.2">45</text>
<text x="841.6" y="121.6">46</text>
<text x="850.0" y="146.6">47</text>
<text x="814.7" y="146.6">48</text>
<text x="1143.8" y="132.5">106</text>
<text x="1111.8" y="167.4">95</text>
<text x="1100.7" y="181.6">94</text>
<text x="1153.0" y="181.0">96</text>
<text x="939.2" y="193.8">92</text>
<text x="1089.6" y="194.6">93</text>
<text x="1154.1" y="210.7">97</text>
<text x="960.7" y="232.8">69</text>
<text x="941.1" y="245.6">48</text>
<text x="921.6" y="259.0">47</text>
<text x="949.3" y="271.2">46</text>
<text x="927.0" y="282.6">40</text>
<text x="1230.9" y="211.9">98</text>
<text x="1194.9" y="312.2">99</text>
<text x="1352.0" y="301.7">101</text>
<text x="1270.4" y="301.7">103</text>
<text x="1256.1" y="327.9">85</text>
<text x="1283.5" y="328.5">102</text>
<text x="1409.5" y="292.0">74</text>
<text x="1412.3" y="306.2">100</text>
<text x="1410.5" y="323.5">64</text>
<text x="1312.6" y="367.8">74</text>
<text x="1333.1" y="367.8">66</text>
<text x="1352.7" y="367.8">65</text>
<text x="1373.9" y="367.8">64</text>
<text x="1264.6" y="401.8">104</text>
<text x="1302.2" y="401.8">105</text>
<text x="1141.6" y="381.6">89</text>
<text x="825.9" y="365.7">68</text>
<text x="785.1" y="389.2">67</text>
<text x="677.7" y="311.9">62</text>
<text x="701.8" y="279.6">63</text>
<text x="753.4" y="425.4">64</text>
<text x="770.9" y="417.0">65</text>
<text x="786.1" y="410.4">66</text>
<text x="629.1" y="384.2">61</text>
<text x="596.2" y="396.6">60</text>
<text x="495.5" y="368.6">49</text>
<text x="461.5" y="388.6">50</text>
<text x="360.7" y="448.0">49</text>
<text x="584.7" y="453.2">49</text>
<text x="527.0" y="517.7">51</text>
<text x="516.8" y="537.7">52</text>
<text x="506.1" y="556.3">52</text>
<text x="487.4" y="589.5">53</text>
<text x="336.8" y="572.4">54</text>
<text x="355.7" y="562.1">55</text>
<text x="375.1" y="553.4">56</text>
<text x="556.2" y="559.4">59</text>
<text x="536.8" y="571.3">58</text>
<text x="518.6" y="583.7">54</text>
<text x="451.8" y="611.5">55</text>
<text x="435.0" y="620.2">57</text>
<text x="418.4" y="627.6">54</text>
<text x="518.9" y="681.1">72</text>
<text x="483.0" y="698.9">56</text>
<text x="491.8" y="723.7">55</text>
<text x="453.2" y="714.5">57</text>
<text x="473.2" y="732.3">55</text>
<text x="450.7" y="743.5">56</text>
<text x="618.9" y="554.6">64</text>
<text x="685.8" y="568.2">70</text>
<text x="685.8" y="586.5">71</text>
<text x="687.2" y="619.0">79</text>
<text x="782.8" y="674.9">74</text>
<text x="736.8" y="677.5">65</text>
<text x="763.4" y="691.2">66</text>
<text x="718.2" y="690.7">64</text>
<text x="916.9" y="498.2">64</text>
<text x="939.2" y="499.7">65</text>
<text x="958.5" y="502.7">66</text>
<text x="978.8" y="504.2">74</text>
<text x="928.1" y="549.2">74</text>
<text x="912.0" y="593.6">73</text>
<text x="829.7" y="589.7">64</text>
<text x="849.2" y="581.6">65</text>
<text x="868.2" y="574.7">66</text>
<text x="1068.0" y="436.8">76</text>
<text x="1143.8" y="444.1">77</text>
<text x="1196.1" y="456.0">78</text>
<text x="1163.2" y="476.4">66</text>
<text x="1144.1" y="487.4">74</text>
<text x="1052.0" y="487.0">65</text>
<text x="1080.4" y="493.6">66</text>
<text x="1033.1" y="497.7">64</text>
<text x="1037.3" y="532.3">10</text>
<text x="1038.6" y="550.2">75</text>
<text x="1181.4" y="522.0">86</text>
<text x="1125.0" y="560.6">84</text>
<text x="1147.4" y="551.6">85</text>
<text x="1161.1" y="584.0">83</text>
<text x="1143.2" y="597.7">83</text>
<text x="1201.1" y="600.8">88</text>
<text x="1183.4" y="619.2">87</text>
<text x="1126.4" y="614.0">82</text>
<text x="1036.9" y="647.0">81</text>
<text x="974.9" y="699.5">80</text>
</g>
</svg>
</body></html>
